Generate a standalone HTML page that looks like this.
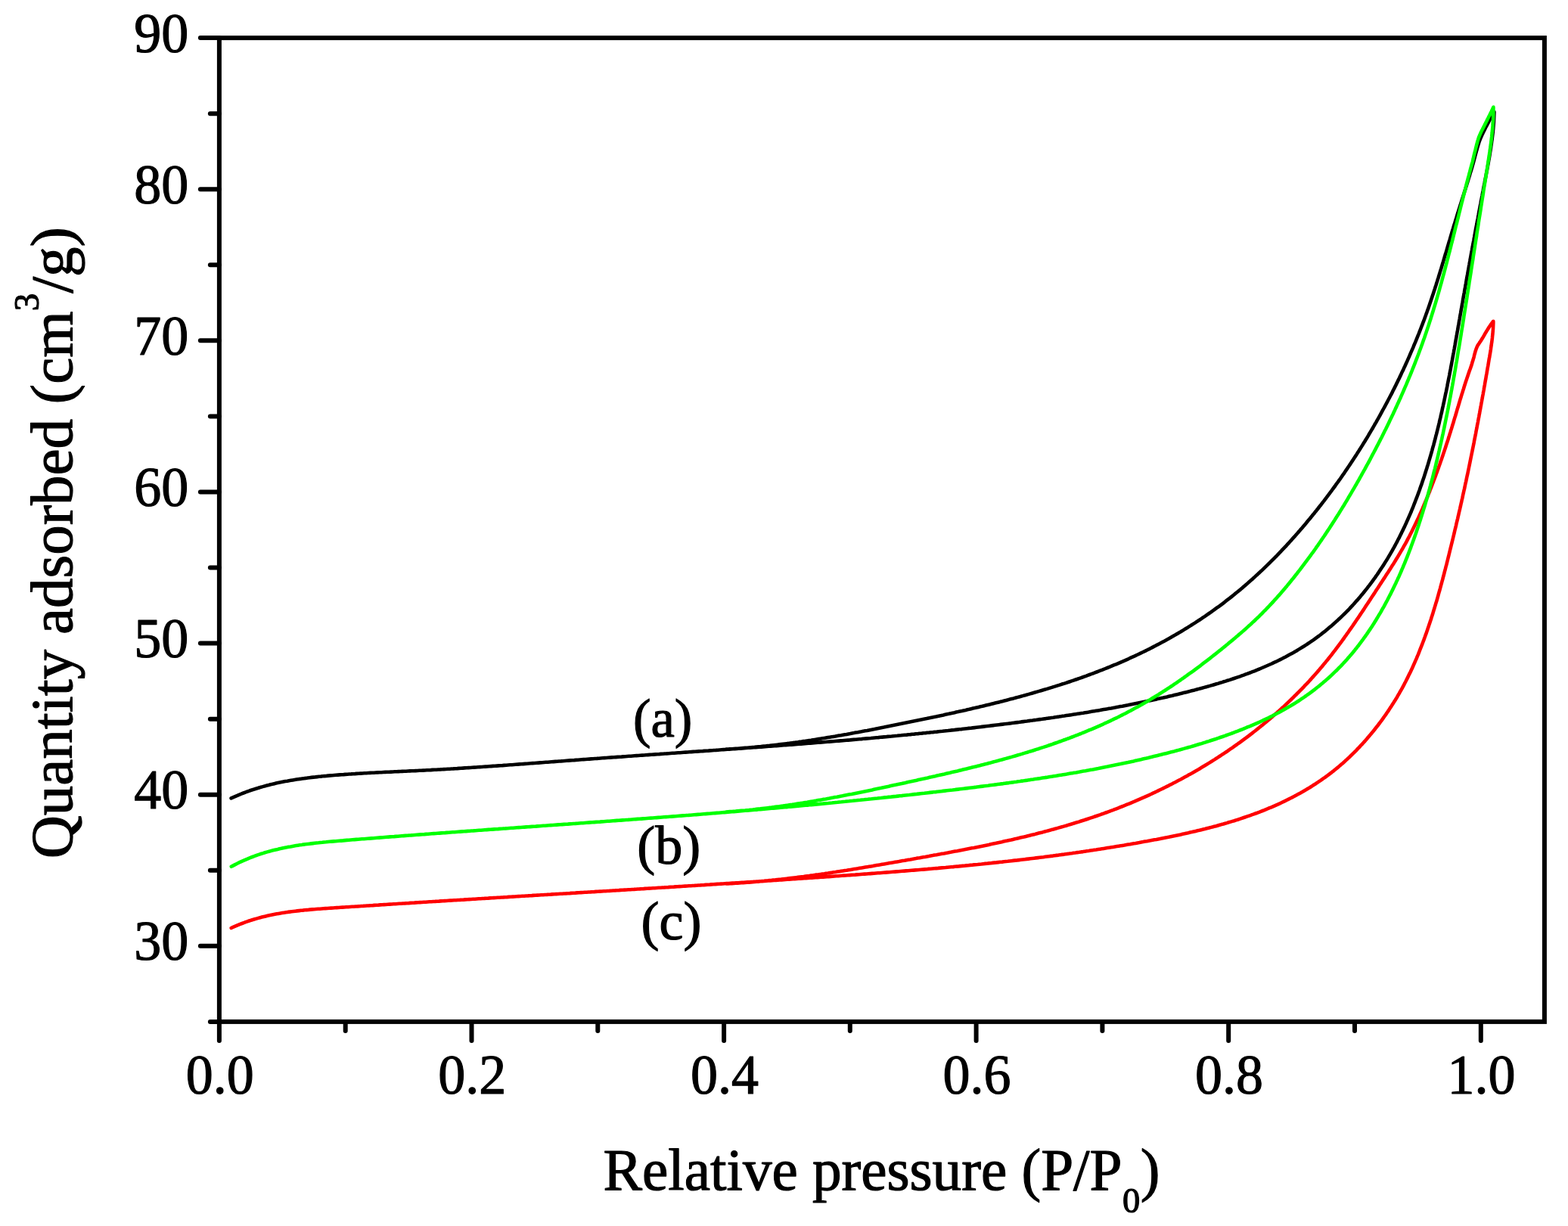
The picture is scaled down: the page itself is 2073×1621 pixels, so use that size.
<!DOCTYPE html>
<html><head><meta charset="utf-8"><title>Isotherms</title>
<style>
html,body{margin:0;padding:0;background:#fff;overflow:hidden;width:2073px;height:1621px;}
svg{display:block;}
text{font-family:"Liberation Serif","Times New Roman",serif;fill:#000;stroke:#000;stroke-width:1.2px;stroke-linejoin:round;}
</style></head>
<body>
<svg width="2073" height="1621" viewBox="0 0 2073 1621">
<rect x="0" y="0" width="2073" height="1621" fill="#fff"/>
<g fill="none" stroke-width="4.6" stroke-linejoin="round" stroke-linecap="round">
<path d="M305.6,1055.4L307.9,1054.3L310.2,1053.3L312.6,1052.3L314.9,1051.3L317.2,1050.3L319.6,1049.4L321.9,1048.5L324.3,1047.6L326.6,1046.7L329.0,1045.9L331.3,1045.0L333.7,1044.2L336.1,1043.5L338.5,1042.7L340.9,1042.0L343.3,1041.2L345.7,1040.6L348.1,1039.9L350.5,1039.2L352.9,1038.6L355.3,1038.0L357.7,1037.3L360.1,1036.8L362.6,1036.2L365.0,1035.6L367.4,1035.1L369.9,1034.6L372.3,1034.1L374.8,1033.6L377.2,1033.1L379.7,1032.7L382.1,1032.2L384.6,1031.8L387.0,1031.4L389.5,1031.0L392.0,1030.6L394.4,1030.2L396.9,1029.9L399.4,1029.5L401.9,1029.2L404.3,1028.9L406.8,1028.5L409.3,1028.2L411.8,1027.9L414.3,1027.6L416.8,1027.4L419.3,1027.1L421.8,1026.8L424.2,1026.6L426.7,1026.3L429.2,1026.1L431.7,1025.9L434.2,1025.6L436.7,1025.4L439.2,1025.2L441.7,1025.0L444.2,1024.8L446.7,1024.6L449.2,1024.4L451.7,1024.2L454.2,1024.1L456.7,1023.9L459.2,1023.7L461.7,1023.5L464.2,1023.4L466.7,1023.2L469.2,1023.1L471.7,1022.9L474.2,1022.8L476.7,1022.6L479.2,1022.5L481.7,1022.3L484.2,1022.2L486.8,1022.0L489.3,1021.9L491.8,1021.8L494.3,1021.7L496.8,1021.5L499.3,1021.4L501.8,1021.3L504.3,1021.2L506.8,1021.0L509.3,1020.9L511.8,1020.8L514.3,1020.7L516.8,1020.6L519.3,1020.5L521.8,1020.3L524.3,1020.2L526.8,1020.1L529.3,1020.0L531.8,1019.9L534.3,1019.8L536.8,1019.7L539.3,1019.5L541.9,1019.4L544.4,1019.3L546.9,1019.2L549.4,1019.1L551.9,1019.0L554.4,1018.8L556.9,1018.7L559.4,1018.6L561.9,1018.5L564.4,1018.3L566.9,1018.2L569.4,1018.1L571.9,1017.9L574.4,1017.8L576.9,1017.7L579.4,1017.5L581.9,1017.4L584.4,1017.2L586.9,1017.1L589.4,1017.0L591.9,1016.8L594.4,1016.7L596.9,1016.5L599.4,1016.4L601.9,1016.2L604.4,1016.1L606.9,1015.9L609.4,1015.8L611.9,1015.6L614.4,1015.4L616.9,1015.3L619.4,1015.1L621.9,1015.0L624.4,1014.8L626.9,1014.6L629.4,1014.5L631.9,1014.3L634.3,1014.1L636.8,1014.0L639.3,1013.8L641.8,1013.6L644.3,1013.5L646.8,1013.3L649.3,1013.1L651.8,1012.9L654.3,1012.8L656.8,1012.6L659.3,1012.4L661.8,1012.2L664.3,1012.1L666.8,1011.9L669.3,1011.7L671.8,1011.5L674.3,1011.3L676.8,1011.2L679.3,1011.0L681.8,1010.8L684.3,1010.6L686.8,1010.4L689.2,1010.3L691.7,1010.1L694.2,1009.9L696.7,1009.7L699.2,1009.5L701.7,1009.3L704.2,1009.1L706.7,1009.0L709.2,1008.8L711.7,1008.6L714.2,1008.4L716.7,1008.2L719.2,1008.0L721.7,1007.8L724.2,1007.7L726.7,1007.5L729.2,1007.3L731.7,1007.1L734.2,1006.9L736.6,1006.7L739.1,1006.5L741.6,1006.4L744.1,1006.2L746.6,1006.0L749.1,1005.8L751.6,1005.6L754.1,1005.4L756.6,1005.2L759.1,1005.1L761.6,1004.9L764.1,1004.7L766.6,1004.5L769.1,1004.3L771.6,1004.1L774.1,1004.0L776.6,1003.8L779.1,1003.6L781.6,1003.4L784.1,1003.2L786.6,1003.0L789.1,1002.9L791.6,1002.7L794.1,1002.5L796.5,1002.3L799.0,1002.1L801.5,1002.0L804.0,1001.8L806.5,1001.6L809.0,1001.4L811.5,1001.3L814.0,1001.1L816.5,1000.9L819.0,1000.7L821.5,1000.6L824.0,1000.4L826.5,1000.2L829.0,1000.0L831.5,999.8L834.0,999.7L836.5,999.5L839.0,999.3L841.5,999.1L844.0,999.0L846.5,998.8L849.0,998.6L851.5,998.5L854.0,998.3L856.5,998.1L859.0,997.9L861.5,997.8L864.0,997.6L866.5,997.4L869.0,997.2L871.5,997.1L874.0,996.9L876.5,996.7L879.0,996.5L881.5,996.4L884.0,996.2L886.5,996.0L889.0,995.8L891.5,995.7L894.0,995.5L896.5,995.3L899.0,995.2L901.5,995.0L904.0,994.8L906.5,994.6L909.0,994.5L911.5,994.3L914.0,994.1L916.5,993.9L919.0,993.8L921.5,993.6L924.0,993.4L926.5,993.2L929.0,993.1L931.5,992.9L934.0,992.7L936.5,992.6L939.0,992.4L941.5,992.2L944.0,992.0L946.5,991.9L949.0,991.7L951.5,991.5L954.0,991.3L956.5,991.1L959.0,991.0L961.5,990.8L964.0,990.6L966.5,990.4L969.0,990.3L971.5,990.1L974.0,989.9L976.5,989.7L979.0,989.6L981.5,989.4L984.0,989.2L986.5,989.0L989.0,988.8L991.5,988.7L994.0,988.5L996.5,988.3L999.0,988.1L1001.5,987.9L1004.0,987.7L1006.5,987.6L1008.9,987.4L1011.4,987.2L1013.9,987.0L1016.4,986.8L1018.9,986.6L1021.4,986.5L1023.9,986.3L1026.4,986.1L1028.9,985.9L1031.4,985.7L1033.9,985.5L1036.4,985.3L1038.9,985.1L1041.4,985.0L1043.9,984.8L1046.4,984.6L1048.9,984.4L1051.4,984.2L1053.9,984.0L1056.4,983.8L1058.9,983.6L1061.4,983.4L1063.9,983.2L1066.4,983.0L1068.9,982.8L1071.4,982.6L1073.9,982.4L1076.4,982.2L1078.9,982.0L1081.4,981.8L1083.9,981.6L1086.4,981.4L1088.9,981.2L1091.4,981.0L1093.9,980.8L1096.4,980.6L1098.9,980.4L1101.4,980.2L1103.9,980.0L1106.4,979.8L1108.9,979.6L1111.4,979.4L1113.9,979.2L1116.4,979.0L1118.9,978.8L1121.3,978.6L1123.8,978.4L1126.3,978.1L1128.8,977.9L1131.3,977.7L1133.8,977.5L1136.3,977.3L1138.8,977.1L1141.3,976.8L1143.8,976.6L1146.3,976.4L1148.8,976.2L1151.3,976.0L1153.8,975.7L1156.3,975.5L1158.8,975.3L1161.3,975.1L1163.8,974.8L1166.3,974.6L1168.7,974.4L1171.2,974.2L1173.7,973.9L1176.2,973.7L1178.7,973.5L1181.2,973.2L1183.7,973.0L1186.2,972.8L1188.7,972.5L1191.2,972.3L1193.7,972.0L1196.2,971.8L1198.7,971.6L1201.2,971.3L1203.6,971.1L1206.1,970.8L1208.6,970.6L1211.1,970.3L1213.6,970.1L1216.1,969.8L1218.6,969.6L1221.1,969.3L1223.6,969.1L1226.1,968.8L1228.6,968.6L1231.0,968.3L1233.5,968.1L1236.0,967.8L1238.5,967.6L1241.0,967.3L1243.5,967.0L1246.0,966.8L1248.5,966.5L1251.0,966.2L1253.4,966.0L1255.9,965.7L1258.4,965.4L1260.9,965.2L1263.4,964.9L1265.9,964.6L1268.4,964.3L1270.9,964.1L1273.3,963.8L1275.8,963.5L1278.3,963.2L1280.8,962.9L1283.3,962.7L1285.8,962.4L1288.3,962.1L1290.8,961.8L1293.2,961.5L1295.7,961.2L1298.2,960.9L1300.7,960.6L1303.2,960.3L1305.7,960.0L1308.1,959.7L1310.6,959.4L1313.1,959.1L1315.6,958.8L1318.1,958.5L1320.6,958.2L1323.0,957.9L1325.5,957.6L1328.0,957.3L1330.5,957.0L1333.0,956.7L1335.5,956.4L1337.9,956.0L1340.4,955.7L1342.9,955.4L1345.4,955.1L1347.9,954.8L1350.3,954.4L1352.8,954.1L1355.3,953.8L1357.8,953.5L1360.3,953.1L1362.7,952.8L1365.2,952.5L1367.7,952.1L1370.2,951.8L1372.7,951.4L1375.1,951.1L1377.6,950.8L1380.1,950.4L1382.6,950.1L1385.0,949.7L1387.5,949.4L1390.0,949.0L1392.5,948.7L1394.9,948.3L1397.4,947.9L1399.9,947.6L1402.4,947.2L1404.8,946.8L1407.3,946.5L1409.8,946.1L1412.3,945.7L1414.7,945.4L1417.2,945.0L1419.7,944.6L1422.2,944.2L1424.6,943.8L1427.1,943.4L1429.6,943.0L1432.0,942.7L1434.5,942.3L1437.0,941.9L1439.4,941.5L1441.9,941.0L1444.4,940.6L1446.8,940.2L1449.3,939.8L1451.8,939.4L1454.2,939.0L1456.7,938.5L1459.2,938.1L1461.6,937.7L1464.1,937.3L1466.6,936.8L1469.0,936.4L1471.5,935.9L1474.0,935.5L1476.4,935.0L1478.9,934.6L1481.3,934.1L1483.8,933.7L1486.3,933.2L1488.7,932.7L1491.2,932.3L1493.6,931.8L1496.1,931.3L1498.5,930.8L1501.0,930.3L1503.5,929.8L1505.9,929.3L1508.4,928.8L1510.8,928.3L1513.3,927.8L1515.7,927.3L1518.2,926.8L1520.6,926.3L1523.1,925.7L1525.5,925.2L1528.0,924.7L1530.4,924.1L1532.9,923.6L1535.3,923.0L1537.8,922.5L1540.2,921.9L1542.7,921.4L1545.1,920.8L1547.5,920.2L1550.0,919.7L1552.4,919.1L1554.9,918.5L1557.3,917.9L1559.8,917.3L1562.2,916.7L1564.6,916.1L1567.1,915.5L1569.5,914.9L1571.9,914.3L1574.4,913.6L1576.8,913.0L1579.2,912.4L1581.7,911.7L1584.1,911.1L1586.5,910.4L1589.0,909.8L1591.4,909.1L1593.8,908.4L1596.2,907.8L1598.7,907.1L1601.1,906.4L1603.5,905.7L1605.9,905.0L1608.3,904.3L1610.7,903.6L1613.2,902.8L1615.6,902.1L1618.0,901.3L1620.4,900.6L1622.8,899.8L1625.2,899.1L1627.5,898.3L1629.9,897.5L1632.3,896.7L1634.7,895.9L1637.1,895.1L1639.4,894.3L1641.8,893.4L1644.2,892.6L1646.5,891.7L1648.9,890.8L1651.2,890.0L1653.6,889.1L1655.9,888.2L1658.3,887.3L1660.6,886.3L1662.9,885.4L1665.2,884.5L1667.5,883.5L1669.8,882.5L1672.1,881.5L1674.4,880.5L1676.7,879.5L1679.0,878.5L1681.3,877.5L1683.5,876.4L1685.8,875.3L1688.1,874.3L1690.3,873.2L1692.5,872.1L1694.8,871.0L1697.0,869.8L1699.2,868.7L1701.4,867.5L1703.6,866.3L1705.8,865.1L1708.0,863.9L1710.2,862.7L1712.3,861.5L1714.5,860.2L1716.6,858.9L1718.7,857.6L1720.9,856.3L1723.0,855.0L1725.1,853.7L1727.2,852.3L1729.2,851.0L1731.3,849.6L1733.4,848.2L1735.4,846.8L1737.5,845.4L1739.5,843.9L1741.5,842.4L1743.5,841.0L1745.5,839.5L1747.4,837.9L1749.4,836.4L1751.4,834.9L1753.3,833.3L1755.2,831.7L1757.1,830.1L1759.0,828.5L1760.9,826.9L1762.8,825.2L1764.7,823.6L1766.5,821.9L1768.4,820.2L1770.2,818.5L1772.0,816.8L1773.8,815.1L1775.6,813.4L1777.4,811.6L1779.2,809.8L1780.9,808.1L1782.7,806.3L1784.4,804.5L1786.1,802.6L1787.8,800.8L1789.5,799.0L1791.2,797.1L1792.8,795.2L1794.5,793.4L1796.1,791.5L1797.8,789.6L1799.4,787.6L1801.0,785.7L1802.6,783.8L1804.2,781.8L1805.7,779.9L1807.3,777.9L1808.8,775.9L1810.4,773.9L1811.9,771.9L1813.4,769.9L1814.9,767.9L1816.3,765.8L1817.8,763.8L1819.3,761.7L1820.7,759.7L1822.1,757.6L1823.5,755.5L1824.9,753.4L1826.3,751.3L1827.7,749.2L1829.1,747.1L1830.4,745.0L1831.7,742.9L1833.1,740.7L1834.4,738.6L1835.7,736.4L1836.9,734.3L1838.2,732.1L1839.5,729.9L1840.7,727.8L1841.9,725.6L1843.2,723.4L1844.4,721.2L1845.5,719.0L1846.7,716.8L1847.9,714.5L1849.0,712.3L1850.2,710.1L1851.3,707.8L1852.4,705.6L1853.5,703.3L1854.6,701.1L1855.7,698.8L1856.8,696.6L1857.8,694.3L1858.9,692.0L1859.9,689.7L1860.9,687.5L1861.9,685.2L1862.9,682.9L1863.9,680.6L1864.9,678.3L1865.9,676.0L1866.8,673.7L1867.8,671.3L1868.7,669.0L1869.6,666.7L1870.5,664.4L1871.4,662.0L1872.3,659.7L1873.2,657.4L1874.1,655.0L1875.0,652.7L1875.8,650.3L1876.7,648.0L1877.5,645.6L1878.3,643.2L1879.2,640.9L1880.0,638.5L1880.8,636.1L1881.6,633.8L1882.4,631.4L1883.2,629.0L1883.9,626.7L1884.7,624.3L1885.4,621.9L1886.2,619.5L1886.9,617.1L1887.7,614.7L1888.4,612.3L1889.1,609.9L1889.8,607.6L1890.5,605.2L1891.2,602.8L1891.9,600.4L1892.6,598.0L1893.3,595.5L1893.9,593.1L1894.6,590.7L1895.3,588.3L1895.9,585.9L1896.6,583.5L1897.2,581.1L1897.8,578.7L1898.4,576.2L1899.1,573.8L1899.7,571.4L1900.3,569.0L1900.9,566.5L1901.5,564.1L1902.1,561.7L1902.7,559.3L1903.2,556.8L1903.8,554.4L1904.4,552.0L1904.9,549.5L1905.5,547.1L1906.1,544.6L1906.6,542.2L1907.1,539.8L1907.7,537.3L1908.2,534.9L1908.8,532.4L1909.3,530.0L1909.8,527.5L1910.3,525.1L1910.8,522.6L1911.3,520.2L1911.9,517.7L1912.4,515.3L1912.9,512.8L1913.4,510.4L1913.8,507.9L1914.3,505.5L1914.8,503.0L1915.3,500.5L1915.8,498.1L1916.3,495.6L1916.7,493.2L1917.2,490.7L1917.7,488.2L1918.1,485.8L1918.6,483.3L1919.1,480.8L1919.5,478.4L1920.0,475.9L1920.4,473.5L1920.9,471.0L1921.3,468.5L1921.8,466.1L1922.2,463.6L1922.7,461.1L1923.1,458.7L1923.6,456.2L1924.0,453.7L1924.4,451.2L1924.9,448.8L1925.3,446.3L1925.8,443.8L1926.2,441.4L1926.6,438.9L1927.1,436.4L1927.5,434.0L1927.9,431.5L1928.4,429.0L1928.8,426.6L1929.2,424.1L1929.7,421.6L1930.1,419.1L1930.5,416.7L1931.0,414.2L1931.4,411.7L1931.8,409.3L1932.3,406.8L1932.7,404.3L1933.1,401.9L1933.6,399.4L1934.0,396.9L1934.4,394.5L1934.9,392.0L1935.3,389.5L1935.8,387.1L1936.2,384.6L1936.6,382.1L1937.1,379.7L1937.5,377.2L1938.0,374.7L1938.4,372.3L1938.8,369.8L1939.3,367.3L1939.7,364.9L1940.2,362.4L1940.6,360.0L1941.1,357.5L1941.5,355.0L1941.9,352.6L1942.4,350.1L1942.8,347.6L1943.3,345.2L1943.7,342.7L1944.2,340.3L1944.6,337.8L1945.1,335.3L1945.5,332.9L1946.0,330.4L1946.4,327.9L1946.9,325.5L1947.3,323.0L1947.8,320.6L1948.3,318.1L1948.7,315.6L1949.2,313.2L1949.6,310.7L1950.1,308.3L1950.5,305.8L1951.0,303.3L1951.4,300.9L1951.9,298.4L1952.4,296.0L1952.8,293.5L1953.3,291.0L1953.8,288.6L1954.2,286.1L1954.7,283.7L1955.1,281.2L1955.6,278.7L1956.1,276.3L1956.5,273.8L1957.0,271.4L1957.5,268.9L1957.9,266.4L1958.4,264.0L1958.9,261.5L1959.4,259.1L1959.8,256.6L1960.3,254.2L1960.8,251.7L1961.2,249.2L1961.7,246.8L1962.2,244.3L1962.7,241.9L1963.1,239.4L1963.6,237.0L1964.1,234.5L1964.6,232.0L1965.0,229.6L1965.5,227.1L1966.0,224.7L1966.4,222.2L1966.9,219.7L1967.3,217.3L1967.8,214.8L1968.2,212.4L1968.7,209.9L1969.1,207.4L1969.5,205.0L1969.9,202.5L1970.3,200.0L1970.7,197.6L1971.1,195.1L1971.4,192.6L1971.8,190.2L1972.1,187.7L1972.5,185.2L1972.8,182.8L1973.1,180.3L1973.4,177.8L1973.7,175.3L1973.9,172.9L1974.2,170.4L1974.4,167.9L1974.6,165.4L1974.8,162.9L1975.0,160.4L1975.1,158.0L1975.2,155.5L1975.3,153.0L1975.4,150.5L1975.5,148.0L1975.3,148.4L1975.0,148.8L1974.6,149.4L1974.2,150.0L1973.8,150.7L1973.4,151.5L1972.9,152.2L1972.5,153.0L1972.0,153.8L1971.6,154.7L1971.1,155.6L1970.6,156.6L1970.0,157.6L1969.5,158.6L1969.0,159.5L1968.5,160.5L1968.0,161.4L1967.5,162.4L1967.0,163.3L1966.5,164.3L1966.0,165.2L1965.5,166.2L1965.0,167.1L1964.5,168.0L1964.0,168.9L1963.6,169.8L1963.1,170.7L1962.7,171.6L1962.3,172.4L1961.8,173.3L1961.4,174.2L1961.0,175.0L1960.6,175.8L1960.2,176.7L1959.8,177.5L1959.4,178.3L1959.0,179.2L1958.7,180.0L1958.3,180.7L1958.0,181.5L1957.7,182.2L1957.4,182.9L1957.1,183.6L1956.9,184.2L1956.6,184.9L1956.3,185.5L1956.1,186.2L1955.8,187.0L1955.5,187.8L1955.2,188.7L1955.0,189.5L1954.7,190.4L1954.4,191.3L1954.1,192.2L1953.9,193.1L1953.6,194.0L1953.4,194.8L1953.1,195.7L1952.9,196.5L1952.7,197.3L1952.5,198.1L1952.2,198.9L1952.0,199.7L1951.8,200.5L1951.6,201.3L1951.3,202.1L1951.1,202.9L1950.9,203.7L1950.7,204.5L1950.5,205.3L1950.2,206.2L1950.0,207.0L1949.8,207.9L1949.6,208.7L1949.3,209.6L1949.1,210.5L1948.9,211.4L1948.7,212.2L1948.4,213.1L1948.2,214.0L1947.9,214.9L1947.7,215.9L1947.4,216.9L1947.1,217.9L1946.8,218.9L1946.6,219.7L1946.4,220.5L1946.2,221.0L1945.5,223.4L1944.8,225.8L1944.0,228.2L1943.3,230.6L1942.6,233.0L1941.8,235.4L1941.1,237.8L1940.4,240.2L1939.6,242.6L1938.9,245.0L1938.1,247.4L1937.4,249.8L1936.6,252.2L1935.9,254.6L1935.1,256.9L1934.4,259.3L1933.6,261.7L1932.9,264.1L1932.1,266.5L1931.3,268.9L1930.6,271.3L1929.8,273.7L1929.1,276.1L1928.3,278.5L1927.6,280.8L1926.8,283.2L1926.1,285.6L1925.4,288.0L1924.6,290.4L1923.9,292.8L1923.2,295.2L1922.4,297.6L1921.7,300.0L1921.0,302.4L1920.2,304.8L1919.5,307.2L1918.8,309.6L1918.1,312.0L1917.4,314.4L1916.7,316.9L1915.9,319.3L1915.2,321.7L1914.5,324.1L1913.8,326.5L1913.1,328.9L1912.4,331.3L1911.7,333.7L1910.9,336.1L1910.2,338.5L1909.5,340.9L1908.8,343.3L1908.1,345.7L1907.3,348.2L1906.6,350.6L1905.9,353.0L1905.2,355.4L1904.4,357.8L1903.7,360.2L1903.0,362.6L1902.2,365.0L1901.5,367.4L1900.7,369.8L1900.0,372.2L1899.2,374.6L1898.5,377.0L1897.7,379.3L1897.0,381.7L1896.2,384.1L1895.4,386.5L1894.6,388.9L1893.8,391.3L1893.0,393.7L1892.2,396.0L1891.4,398.4L1890.6,400.8L1889.8,403.2L1889.0,405.5L1888.2,407.9L1887.3,410.3L1886.5,412.6L1885.6,415.0L1884.8,417.3L1883.9,419.7L1883.1,422.0L1882.2,424.4L1881.3,426.7L1880.4,429.1L1879.5,431.4L1878.6,433.8L1877.7,436.1L1876.8,438.4L1875.9,440.8L1874.9,443.1L1874.0,445.4L1873.1,447.7L1872.1,450.1L1871.2,452.4L1870.2,454.7L1869.2,457.0L1868.3,459.3L1867.3,461.6L1866.3,463.9L1865.3,466.2L1864.3,468.5L1863.3,470.8L1862.3,473.1L1861.3,475.4L1860.3,477.7L1859.2,480.0L1858.2,482.2L1857.2,484.5L1856.1,486.8L1855.1,489.1L1854.0,491.3L1852.9,493.6L1851.9,495.9L1850.8,498.1L1849.7,500.4L1848.6,502.6L1847.5,504.9L1846.4,507.1L1845.3,509.4L1844.2,511.6L1843.1,513.9L1841.9,516.1L1840.8,518.4L1839.7,520.6L1838.5,522.8L1837.4,525.0L1836.2,527.3L1835.0,529.5L1833.9,531.7L1832.7,533.9L1831.5,536.1L1830.3,538.3L1829.1,540.5L1827.9,542.7L1826.7,544.9L1825.5,547.1L1824.3,549.3L1823.1,551.5L1821.9,553.7L1820.6,555.9L1819.4,558.1L1818.1,560.2L1816.9,562.4L1815.6,564.6L1814.4,566.8L1813.1,568.9L1811.8,571.1L1810.5,573.2L1809.3,575.4L1808.0,577.6L1806.7,579.7L1805.4,581.8L1804.1,584.0L1802.7,586.1L1801.4,588.3L1800.1,590.4L1798.8,592.5L1797.4,594.6L1796.1,596.8L1794.7,598.9L1793.4,601.0L1792.0,603.1L1790.6,605.2L1789.3,607.3L1787.9,609.4L1786.5,611.5L1785.1,613.6L1783.7,615.7L1782.3,617.8L1780.9,619.9L1779.5,621.9L1778.1,624.0L1776.7,626.1L1775.2,628.1L1773.8,630.2L1772.4,632.3L1770.9,634.3L1769.5,636.4L1768.0,638.4L1766.5,640.4L1765.1,642.5L1763.6,644.5L1762.1,646.5L1760.6,648.6L1759.1,650.6L1757.6,652.6L1756.1,654.6L1754.6,656.6L1753.1,658.6L1751.6,660.6L1750.1,662.6L1748.5,664.6L1747.0,666.6L1745.5,668.6L1743.9,670.5L1742.4,672.5L1740.8,674.5L1739.2,676.4L1737.7,678.4L1736.1,680.3L1734.5,682.3L1732.9,684.2L1731.3,686.2L1729.7,688.1L1728.1,690.0L1726.5,692.0L1724.9,693.9L1723.3,695.8L1721.7,697.7L1720.0,699.6L1718.4,701.5L1716.7,703.4L1715.1,705.3L1713.4,707.2L1711.8,709.1L1710.1,710.9L1708.4,712.8L1706.8,714.7L1705.1,716.5L1703.4,718.4L1701.7,720.2L1700.0,722.1L1698.3,723.9L1696.6,725.7L1694.8,727.5L1693.1,729.4L1691.4,731.2L1689.6,733.0L1687.9,734.8L1686.1,736.6L1684.4,738.3L1682.6,740.1L1680.8,741.9L1679.1,743.6L1677.3,745.4L1675.5,747.2L1673.7,748.9L1671.9,750.6L1670.1,752.4L1668.3,754.1L1666.4,755.8L1664.6,757.5L1662.8,759.2L1660.9,760.9L1659.1,762.6L1657.2,764.3L1655.4,766.0L1653.5,767.6L1651.6,769.3L1649.8,770.9L1647.9,772.6L1646.0,774.2L1644.1,775.8L1642.2,777.5L1640.3,779.1L1638.3,780.7L1636.4,782.3L1634.5,783.8L1632.5,785.4L1630.6,787.0L1628.6,788.6L1626.7,790.1L1624.7,791.7L1622.7,793.2L1620.7,794.7L1618.8,796.3L1616.8,797.8L1614.8,799.3L1612.8,800.8L1610.7,802.3L1608.7,803.7L1606.7,805.2L1604.7,806.7L1602.6,808.1L1600.6,809.6L1598.5,811.0L1596.5,812.4L1594.4,813.9L1592.3,815.3L1590.2,816.7L1588.2,818.1L1586.1,819.5L1584.0,820.8L1581.9,822.2L1579.8,823.6L1577.7,824.9L1575.5,826.3L1573.4,827.6L1571.3,828.9L1569.2,830.3L1567.0,831.6L1564.9,832.9L1562.7,834.2L1560.6,835.5L1558.4,836.7L1556.3,838.0L1554.1,839.3L1551.9,840.5L1549.7,841.8L1547.6,843.0L1545.4,844.3L1543.2,845.5L1541.0,846.7L1538.8,847.9L1536.6,849.1L1534.4,850.3L1532.1,851.5L1529.9,852.6L1527.7,853.8L1525.5,854.9L1523.2,856.1L1521.0,857.2L1518.8,858.4L1516.5,859.5L1514.3,860.6L1512.0,861.7L1509.8,862.8L1507.5,863.9L1505.2,865.0L1503.0,866.0L1500.7,867.1L1498.4,868.2L1496.1,869.2L1493.8,870.2L1491.6,871.3L1489.3,872.3L1487.0,873.3L1484.7,874.3L1482.4,875.3L1480.1,876.3L1477.8,877.3L1475.5,878.3L1473.1,879.2L1470.8,880.2L1468.5,881.2L1466.2,882.1L1463.9,883.0L1461.5,884.0L1459.2,884.9L1456.9,885.8L1454.5,886.7L1452.2,887.6L1449.9,888.5L1447.5,889.4L1445.2,890.3L1442.8,891.2L1440.5,892.0L1438.1,892.9L1435.7,893.8L1433.4,894.6L1431.0,895.5L1428.7,896.3L1426.3,897.1L1423.9,898.0L1421.5,898.8L1419.2,899.6L1416.8,900.4L1414.4,901.2L1412.0,902.0L1409.7,902.8L1407.3,903.6L1404.9,904.3L1402.5,905.1L1400.1,905.9L1397.7,906.6L1395.3,907.4L1392.9,908.1L1390.5,908.9L1388.1,909.6L1385.7,910.4L1383.3,911.1L1380.9,911.8L1378.5,912.5L1376.1,913.2L1373.7,913.9L1371.3,914.6L1368.9,915.3L1366.5,916.0L1364.1,916.7L1361.7,917.4L1359.2,918.1L1356.8,918.8L1354.4,919.4L1352.0,920.1L1349.6,920.8L1347.2,921.4L1344.7,922.1L1342.3,922.7L1339.9,923.4L1337.5,924.0L1335.0,924.6L1332.6,925.3L1330.2,925.9L1327.8,926.5L1325.3,927.2L1322.9,927.8L1320.5,928.4L1318.0,929.0L1315.6,929.6L1313.2,930.2L1310.7,930.8L1308.3,931.4L1305.9,932.0L1303.4,932.6L1301.0,933.2L1298.6,933.8L1296.1,934.3L1293.7,934.9L1291.2,935.5L1288.8,936.1L1286.3,936.6L1283.9,937.2L1281.5,937.8L1279.0,938.3L1276.6,938.9L1274.1,939.4L1271.7,940.0L1269.2,940.5L1266.8,941.1L1264.3,941.6L1261.9,942.2L1259.4,942.7L1257.0,943.2L1254.5,943.8L1252.1,944.3L1249.6,944.8L1247.2,945.4L1244.7,945.9L1242.3,946.4L1239.8,946.9L1237.4,947.5L1234.9,948.0L1232.5,948.5L1230.0,949.0L1227.6,949.5L1225.1,950.1L1222.6,950.6L1220.2,951.1L1217.7,951.6L1215.3,952.1L1212.8,952.6L1210.4,953.1L1207.9,953.6L1205.4,954.1L1203.0,954.6L1200.5,955.1L1198.1,955.6L1195.6,956.1L1193.1,956.6L1190.7,957.1L1188.2,957.6L1185.8,958.1L1183.3,958.6L1180.8,959.1L1178.4,959.6L1175.9,960.1L1173.5,960.6L1171.0,961.1L1168.5,961.6L1166.1,962.0L1163.6,962.5L1161.2,963.0L1158.7,963.5L1156.2,964.0L1153.8,964.4L1151.3,964.9L1148.8,965.4L1146.4,965.9L1143.9,966.3L1141.4,966.8L1139.0,967.3L1136.5,967.7L1134.0,968.2L1131.6,968.6L1129.1,969.1L1126.6,969.5L1124.2,970.0L1121.7,970.4L1119.2,970.9L1116.8,971.3L1114.3,971.7L1111.8,972.2L1109.3,972.6L1106.9,973.0L1104.4,973.5L1101.9,973.9L1099.5,974.3L1097.0,974.7L1094.5,975.1L1092.0,975.5L1089.6,975.9L1087.1,976.3L1084.6,976.7L1082.1,977.1L1079.7,977.5L1077.2,977.9L1074.7,978.3L1072.2,978.7L1069.7,979.0L1067.3,979.4L1064.8,979.8L1062.3,980.1L1059.8,980.5L1057.3,980.8L1054.9,981.2L1052.4,981.5L1049.9,981.9L1047.4,982.2L1044.9,982.5L1042.4,982.9L1039.9,983.2L1037.5,983.5L1035.0,983.8L1032.5,984.1L1030.0,984.4L1027.5,984.7L1025.0,985.0L1022.5,985.3L1020.0,985.6L1017.5,985.9L1015.0,986.1L1012.6,986.4L1010.1,986.6L1007.6,986.9L1005.1,987.2L1002.6,987.4L1000.1,987.6L997.6,987.9L995.1,988.1L992.6,988.3L990.1,988.5L987.6,988.7L985.1,988.9L982.6,989.1L980.1,989.3L977.6,989.5L975.1,989.7L972.5,989.8L970.0,990.0L967.5,990.2L965.0,990.3L962.5,990.5L960.0,990.6L959.0,991.0L956.5,991.1L954.0,991.3L951.5,991.5L949.0,991.7L946.5,991.9L944.0,992.0L941.5,992.2L939.0,992.4L936.5,992.6L934.0,992.7L931.5,992.9L929.0,993.1L926.5,993.2L924.0,993.4L921.5,993.6L919.0,993.8L916.5,993.9L914.0,994.1L911.5,994.3L909.0,994.5L906.5,994.6L904.0,994.8L901.5,995.0L899.0,995.2L896.5,995.3L894.0,995.5L891.5,995.7L889.0,995.8L886.5,996.0L884.0,996.2L881.5,996.4L879.0,996.5L876.5,996.7L874.0,996.9L871.5,997.1L869.0,997.2L866.5,997.4L864.0,997.6L861.5,997.8L859.0,997.9" stroke="#000"/>
<path d="M305.7,1227.0L308.0,1225.9L310.4,1224.9L312.7,1223.9L315.1,1222.9L317.5,1221.9L319.9,1221.0L322.3,1220.1L324.7,1219.2L327.0,1218.4L329.4,1217.5L331.8,1216.8L334.3,1216.0L336.7,1215.3L339.1,1214.6L341.5,1213.9L343.9,1213.2L346.3,1212.6L348.8,1212.0L351.2,1211.4L353.6,1210.8L356.1,1210.3L358.5,1209.8L361.0,1209.3L363.4,1208.8L365.9,1208.3L368.3,1207.9L370.8,1207.5L373.2,1207.1L375.7,1206.7L378.2,1206.3L380.6,1205.9L383.1,1205.6L385.6,1205.3L388.0,1205.0L390.5,1204.7L393.0,1204.4L395.5,1204.1L398.0,1203.8L400.4,1203.6L402.9,1203.3L405.4,1203.1L407.9,1202.9L410.4,1202.6L412.9,1202.4L415.4,1202.2L417.9,1202.0L420.4,1201.8L422.9,1201.7L425.3,1201.5L427.8,1201.3L430.3,1201.1L432.8,1201.0L435.3,1200.8L437.8,1200.6L440.3,1200.5L442.8,1200.3L445.3,1200.1L447.8,1200.0L450.3,1199.8L452.8,1199.6L455.3,1199.5L457.8,1199.3L460.3,1199.2L462.8,1199.0L465.3,1198.8L467.8,1198.7L470.3,1198.5L472.8,1198.4L475.3,1198.2L477.8,1198.0L480.3,1197.9L482.8,1197.7L485.3,1197.5L487.8,1197.4L490.3,1197.2L492.8,1197.1L495.3,1196.9L497.8,1196.7L500.3,1196.6L502.8,1196.4L505.3,1196.3L507.8,1196.1L510.3,1196.0L512.8,1195.8L515.3,1195.6L517.8,1195.5L520.3,1195.3L522.8,1195.2L525.3,1195.0L527.8,1194.8L530.3,1194.7L532.8,1194.5L535.3,1194.4L537.8,1194.2L540.3,1194.1L542.8,1193.9L545.3,1193.7L547.8,1193.6L550.3,1193.4L552.8,1193.3L555.3,1193.1L557.8,1193.0L560.3,1192.8L562.8,1192.7L565.3,1192.5L567.8,1192.3L570.3,1192.2L572.8,1192.0L575.3,1191.9L577.8,1191.7L580.3,1191.6L582.8,1191.4L585.3,1191.3L587.8,1191.1L590.3,1191.0L592.8,1190.8L595.3,1190.6L597.8,1190.5L600.4,1190.3L602.9,1190.2L605.4,1190.0L607.9,1189.9L610.4,1189.7L612.9,1189.6L615.4,1189.4L617.9,1189.3L620.4,1189.1L622.9,1189.0L625.4,1188.8L627.9,1188.7L630.4,1188.5L632.9,1188.3L635.4,1188.2L637.9,1188.0L640.4,1187.9L642.9,1187.7L645.4,1187.6L647.9,1187.4L650.4,1187.3L652.9,1187.1L655.4,1187.0L657.9,1186.8L660.4,1186.7L662.9,1186.5L665.4,1186.4L667.9,1186.2L670.4,1186.1L672.9,1185.9L675.4,1185.8L678.0,1185.6L680.5,1185.5L683.0,1185.3L685.5,1185.1L688.0,1185.0L690.5,1184.8L693.0,1184.7L695.5,1184.5L698.0,1184.4L700.5,1184.2L703.0,1184.1L705.5,1183.9L708.0,1183.8L710.5,1183.6L713.0,1183.5L715.5,1183.3L718.0,1183.2L720.5,1183.0L723.0,1182.9L725.5,1182.7L728.0,1182.6L730.5,1182.4L733.0,1182.3L735.5,1182.1L738.0,1182.0L740.5,1181.8L743.1,1181.7L745.6,1181.5L748.1,1181.4L750.6,1181.2L753.1,1181.1L755.6,1180.9L758.1,1180.7L760.6,1180.6L763.1,1180.4L765.6,1180.3L768.1,1180.1L770.6,1180.0L773.1,1179.8L775.6,1179.7L778.1,1179.5L780.6,1179.4L783.1,1179.2L785.6,1179.1L788.1,1178.9L790.6,1178.8L793.1,1178.6L795.6,1178.5L798.1,1178.3L800.6,1178.2L803.1,1178.0L805.7,1177.9L808.2,1177.7L810.7,1177.5L813.2,1177.4L815.7,1177.2L818.2,1177.1L820.7,1176.9L823.2,1176.8L825.7,1176.6L828.2,1176.5L830.7,1176.3L833.2,1176.2L835.7,1176.0L838.2,1175.9L840.7,1175.7L843.2,1175.5L845.7,1175.4L848.2,1175.2L850.7,1175.1L853.2,1174.9L855.7,1174.8L858.2,1174.6L860.7,1174.5L863.2,1174.3L865.7,1174.2L868.2,1174.0L870.7,1173.8L873.2,1173.7L875.7,1173.5L878.2,1173.4L880.8,1173.2L883.3,1173.1L885.8,1172.9L888.3,1172.7L890.8,1172.6L893.3,1172.4L895.8,1172.3L898.3,1172.1L900.8,1172.0L903.3,1171.8L905.8,1171.6L908.3,1171.5L910.8,1171.3L913.3,1171.2L915.8,1171.0L918.3,1170.9L920.8,1170.7L923.3,1170.5L925.8,1170.4L928.3,1170.2L930.8,1170.1L933.3,1169.9L935.8,1169.7L938.3,1169.6L940.8,1169.4L943.3,1169.3L945.8,1169.1L948.3,1168.9L950.8,1168.8L953.3,1168.6L955.8,1168.5L958.3,1168.3L960.8,1168.1L963.3,1168.0L965.8,1167.8L968.3,1167.6L970.8,1167.5L973.3,1167.3L975.8,1167.2L978.3,1167.0L980.8,1166.8L983.3,1166.7L985.8,1166.5L988.3,1166.3L990.8,1166.2L993.3,1166.0L995.8,1165.9L998.3,1165.7L1000.8,1165.5L1003.3,1165.4L1005.8,1165.2L1008.3,1165.0L1010.8,1164.9L1013.3,1164.7L1015.8,1164.5L1018.3,1164.4L1020.8,1164.2L1023.3,1164.0L1025.8,1163.9L1028.3,1163.7L1030.8,1163.5L1033.3,1163.4L1035.8,1163.2L1038.3,1163.0L1040.8,1162.8L1043.3,1162.7L1045.8,1162.5L1048.3,1162.3L1050.8,1162.2L1053.3,1162.0L1055.8,1161.8L1058.3,1161.7L1060.8,1161.5L1063.3,1161.3L1065.8,1161.1L1068.3,1161.0L1070.8,1160.8L1073.2,1160.6L1075.7,1160.4L1078.2,1160.3L1080.7,1160.1L1083.2,1159.9L1085.7,1159.8L1088.2,1159.6L1090.7,1159.4L1093.2,1159.2L1095.7,1159.1L1098.2,1158.9L1100.7,1158.7L1103.2,1158.5L1105.7,1158.3L1108.2,1158.2L1110.7,1158.0L1113.2,1157.8L1115.7,1157.6L1118.2,1157.5L1120.7,1157.3L1123.2,1157.1L1125.6,1156.9L1128.1,1156.7L1130.6,1156.6L1133.1,1156.4L1135.6,1156.2L1138.1,1156.0L1140.6,1155.8L1143.1,1155.6L1145.6,1155.5L1148.1,1155.3L1150.6,1155.1L1153.1,1154.9L1155.6,1154.7L1158.1,1154.5L1160.6,1154.3L1163.0,1154.2L1165.5,1154.0L1168.0,1153.8L1170.5,1153.6L1173.0,1153.4L1175.5,1153.2L1178.0,1153.0L1180.5,1152.8L1183.0,1152.6L1185.5,1152.4L1188.0,1152.2L1190.5,1152.0L1192.9,1151.8L1195.4,1151.6L1197.9,1151.4L1200.4,1151.2L1202.9,1151.0L1205.4,1150.8L1207.9,1150.6L1210.4,1150.4L1212.9,1150.2L1215.4,1150.0L1217.9,1149.8L1220.3,1149.6L1222.8,1149.4L1225.3,1149.2L1227.8,1148.9L1230.3,1148.7L1232.8,1148.5L1235.3,1148.3L1237.8,1148.1L1240.3,1147.9L1242.7,1147.6L1245.2,1147.4L1247.7,1147.2L1250.2,1147.0L1252.7,1146.7L1255.2,1146.5L1257.7,1146.3L1260.2,1146.1L1262.7,1145.8L1265.2,1145.6L1267.6,1145.4L1270.1,1145.1L1272.6,1144.9L1275.1,1144.7L1277.6,1144.4L1280.1,1144.2L1282.6,1143.9L1285.1,1143.7L1287.5,1143.4L1290.0,1143.2L1292.5,1143.0L1295.0,1142.7L1297.5,1142.5L1300.0,1142.2L1302.5,1141.9L1305.0,1141.7L1307.5,1141.4L1309.9,1141.2L1312.4,1140.9L1314.9,1140.6L1317.4,1140.4L1319.9,1140.1L1322.4,1139.8L1324.9,1139.6L1327.4,1139.3L1329.8,1139.0L1332.3,1138.8L1334.8,1138.5L1337.3,1138.2L1339.8,1137.9L1342.3,1137.6L1344.8,1137.4L1347.3,1137.1L1349.7,1136.8L1352.2,1136.5L1354.7,1136.2L1357.2,1135.9L1359.7,1135.6L1362.2,1135.3L1364.7,1135.0L1367.1,1134.7L1369.6,1134.4L1372.1,1134.1L1374.6,1133.8L1377.1,1133.5L1379.6,1133.2L1382.1,1132.8L1384.6,1132.5L1387.0,1132.2L1389.5,1131.9L1392.0,1131.6L1394.5,1131.2L1397.0,1130.9L1399.5,1130.6L1402.0,1130.2L1404.4,1129.9L1406.9,1129.6L1409.4,1129.2L1411.9,1128.9L1414.4,1128.5L1416.9,1128.2L1419.4,1127.8L1421.9,1127.5L1424.3,1127.1L1426.8,1126.8L1429.3,1126.4L1431.8,1126.1L1434.3,1125.7L1436.8,1125.3L1439.3,1125.0L1441.7,1124.6L1444.2,1124.2L1446.7,1123.8L1449.2,1123.5L1451.7,1123.1L1454.2,1122.7L1456.7,1122.3L1459.2,1121.9L1461.6,1121.5L1464.1,1121.1L1466.6,1120.7L1469.1,1120.3L1471.6,1119.9L1474.1,1119.5L1476.6,1119.1L1479.0,1118.7L1481.5,1118.3L1484.0,1117.9L1486.5,1117.5L1489.0,1117.0L1491.5,1116.6L1494.0,1116.2L1496.5,1115.7L1498.9,1115.3L1501.4,1114.9L1503.9,1114.4L1506.4,1114.0L1508.9,1113.5L1511.4,1113.1L1513.9,1112.6L1516.3,1112.2L1518.8,1111.7L1521.3,1111.3L1523.8,1110.8L1526.3,1110.3L1528.8,1109.9L1531.3,1109.4L1533.7,1108.9L1536.2,1108.4L1538.7,1107.9L1541.2,1107.4L1543.7,1107.0L1546.2,1106.5L1548.7,1105.9L1551.1,1105.4L1553.6,1104.9L1556.1,1104.4L1558.6,1103.9L1561.0,1103.4L1563.5,1102.8L1566.0,1102.3L1568.5,1101.7L1570.9,1101.2L1573.4,1100.6L1575.9,1100.1L1578.3,1099.5L1580.8,1098.9L1583.2,1098.3L1585.7,1097.8L1588.1,1097.2L1590.6,1096.6L1593.0,1096.0L1595.5,1095.3L1597.9,1094.7L1600.4,1094.1L1602.8,1093.4L1605.2,1092.8L1607.7,1092.2L1610.1,1091.5L1612.5,1090.8L1614.9,1090.1L1617.3,1089.5L1619.7,1088.8L1622.1,1088.1L1624.5,1087.3L1626.9,1086.6L1629.3,1085.9L1631.7,1085.2L1634.1,1084.4L1636.5,1083.7L1638.9,1082.9L1641.2,1082.1L1643.6,1081.3L1646.0,1080.5L1648.3,1079.7L1650.7,1078.9L1653.0,1078.1L1655.4,1077.2L1657.7,1076.4L1660.0,1075.5L1662.4,1074.7L1664.7,1073.8L1667.0,1072.9L1669.3,1072.0L1671.6,1071.1L1673.9,1070.1L1676.2,1069.2L1678.5,1068.2L1680.8,1067.3L1683.0,1066.3L1685.3,1065.3L1687.5,1064.3L1689.8,1063.3L1692.0,1062.3L1694.3,1061.2L1696.5,1060.2L1698.7,1059.1L1700.9,1058.0L1703.2,1056.9L1705.4,1055.8L1707.5,1054.7L1709.7,1053.6L1711.9,1052.4L1714.1,1051.3L1716.2,1050.1L1718.4,1048.9L1720.5,1047.7L1722.7,1046.5L1724.8,1045.2L1726.9,1044.0L1729.0,1042.7L1731.2,1041.5L1733.2,1040.2L1735.3,1038.8L1737.4,1037.5L1739.5,1036.2L1741.5,1034.8L1743.6,1033.4L1745.6,1032.1L1747.7,1030.6L1749.7,1029.2L1751.7,1027.8L1753.7,1026.3L1755.7,1024.9L1757.7,1023.4L1759.7,1021.9L1761.6,1020.3L1763.6,1018.8L1765.5,1017.2L1767.5,1015.6L1769.4,1014.1L1771.3,1012.4L1773.2,1010.8L1775.1,1009.2L1777.0,1007.5L1778.8,1005.8L1780.7,1004.1L1782.5,1002.4L1784.4,1000.7L1786.2,998.9L1788.0,997.1L1789.8,995.4L1791.6,993.6L1793.4,991.8L1795.1,989.9L1796.9,988.1L1798.6,986.2L1800.4,984.4L1802.1,982.5L1803.8,980.6L1805.5,978.7L1807.2,976.8L1808.8,974.8L1810.5,972.9L1812.1,970.9L1813.7,969.0L1815.4,967.0L1817.0,965.0L1818.5,963.0L1820.1,961.0L1821.7,959.0L1823.2,957.0L1824.8,954.9L1826.3,952.9L1827.8,950.8L1829.3,948.7L1830.7,946.7L1832.2,944.6L1833.6,942.5L1835.1,940.4L1836.5,938.3L1837.9,936.1L1839.3,934.0L1840.6,931.9L1842.0,929.8L1843.3,927.6L1844.7,925.5L1846.0,923.3L1847.3,921.2L1848.5,919.0L1849.8,916.8L1851.0,914.6L1852.3,912.5L1853.5,910.3L1854.7,908.1L1855.9,905.9L1857.0,903.7L1858.2,901.5L1859.3,899.3L1860.4,897.1L1861.5,894.9L1862.6,892.6L1863.7,890.4L1864.8,888.2L1865.8,886.0L1866.9,883.7L1867.9,881.5L1868.9,879.2L1869.9,877.0L1870.9,874.7L1871.9,872.4L1872.9,870.2L1873.8,867.9L1874.8,865.6L1875.7,863.3L1876.6,861.0L1877.5,858.7L1878.4,856.4L1879.3,854.1L1880.2,851.8L1881.1,849.5L1882.0,847.2L1882.8,844.9L1883.7,842.5L1884.5,840.2L1885.4,837.9L1886.2,835.5L1887.0,833.2L1887.8,830.8L1888.6,828.4L1889.4,826.1L1890.2,823.7L1891.0,821.3L1891.8,819.0L1892.5,816.6L1893.3,814.2L1894.1,811.8L1894.8,809.4L1895.5,807.0L1896.3,804.6L1897.0,802.2L1897.7,799.8L1898.4,797.4L1899.2,795.0L1899.9,792.6L1900.6,790.1L1901.3,787.7L1901.9,785.3L1902.6,782.9L1903.3,780.5L1904.0,778.0L1904.6,775.6L1905.3,773.2L1906.0,770.7L1906.6,768.3L1907.3,765.9L1907.9,763.4L1908.6,761.0L1909.2,758.6L1909.8,756.1L1910.5,753.7L1911.1,751.2L1911.7,748.8L1912.4,746.4L1913.0,743.9L1913.6,741.5L1914.2,739.0L1914.8,736.6L1915.4,734.2L1916.0,731.7L1916.6,729.3L1917.2,726.8L1917.8,724.4L1918.4,722.0L1919.0,719.5L1919.6,717.1L1920.2,714.7L1920.8,712.2L1921.4,709.8L1922.0,707.3L1922.6,704.9L1923.1,702.5L1923.7,700.0L1924.3,697.6L1924.9,695.2L1925.4,692.8L1926.0,690.3L1926.6,687.9L1927.2,685.5L1927.7,683.0L1928.3,680.6L1928.8,678.2L1929.4,675.7L1930.0,673.3L1930.5,670.9L1931.1,668.4L1931.6,666.0L1932.2,663.6L1932.7,661.1L1933.3,658.7L1933.8,656.2L1934.3,653.8L1934.9,651.4L1935.4,648.9L1936.0,646.5L1936.5,644.0L1937.0,641.6L1937.5,639.1L1938.1,636.7L1938.6,634.3L1939.1,631.8L1939.6,629.4L1940.2,626.9L1940.7,624.5L1941.2,622.0L1941.7,619.6L1942.2,617.1L1942.7,614.7L1943.2,612.2L1943.7,609.7L1944.2,607.3L1944.7,604.8L1945.2,602.4L1945.7,599.9L1946.2,597.5L1946.7,595.0L1947.2,592.5L1947.7,590.1L1948.2,587.6L1948.7,585.2L1949.1,582.7L1949.6,580.2L1950.1,577.8L1950.6,575.3L1951.1,572.9L1951.5,570.4L1952.0,567.9L1952.5,565.5L1952.9,563.0L1953.4,560.5L1953.9,558.1L1954.3,555.6L1954.8,553.1L1955.3,550.7L1955.7,548.2L1956.2,545.7L1956.6,543.3L1957.1,540.8L1957.5,538.3L1958.0,535.9L1958.4,533.4L1958.9,530.9L1959.3,528.5L1959.8,526.0L1960.2,523.5L1960.7,521.1L1961.1,518.6L1961.6,516.1L1962.0,513.6L1962.4,511.2L1962.9,508.7L1963.3,506.2L1963.7,503.8L1964.2,501.3L1964.6,498.8L1965.0,496.4L1965.5,493.9L1965.9,491.4L1966.3,489.0L1966.7,486.5L1967.2,484.0L1967.6,481.6L1968.0,479.1L1968.4,476.6L1968.8,474.2L1969.3,471.7L1969.7,469.2L1970.1,466.8L1970.5,464.3L1970.9,461.8L1971.2,459.4L1971.6,456.9L1971.9,454.4L1972.3,452.0L1972.6,449.5L1972.9,447.0L1973.1,444.6L1973.4,442.1L1973.6,439.6L1973.8,437.1L1974.0,434.6L1974.1,432.2L1974.2,429.7L1974.3,427.2L1974.3,424.7L1974.2,424.8L1974.1,424.9L1974.0,425.0L1973.9,425.2L1973.7,425.4L1973.5,425.6L1973.3,425.9L1973.0,426.3L1972.7,426.8L1972.3,427.3L1971.9,427.9L1971.4,428.5L1971.0,429.2L1970.5,429.9L1970.0,430.5L1969.6,431.2L1969.2,431.9L1968.7,432.5L1968.3,433.2L1967.8,433.9L1967.4,434.7L1966.9,435.4L1966.5,436.0L1966.1,436.7L1965.7,437.3L1965.3,437.9L1965.0,438.5L1964.6,439.1L1964.2,439.7L1963.9,440.3L1963.5,440.9L1963.1,441.6L1962.7,442.3L1962.3,443.0L1961.9,443.8L1961.4,444.5L1961.0,445.3L1960.6,446.0L1960.1,446.8L1959.7,447.5L1959.3,448.2L1958.8,448.9L1958.4,449.6L1957.9,450.3L1957.5,451.0L1957.0,451.6L1956.6,452.3L1956.2,452.9L1955.8,453.5L1955.4,454.1L1955.0,454.6L1954.7,455.2L1954.3,455.7L1953.9,456.3L1953.6,456.8L1953.3,457.4L1953.0,458.0L1952.7,458.6L1952.5,459.2L1952.2,459.8L1952.0,460.4L1951.7,461.1L1951.5,461.7L1951.3,462.3L1951.1,462.9L1950.9,463.5L1950.7,464.1L1950.5,464.7L1950.3,465.4L1950.2,466.0L1950.0,466.6L1949.8,467.3L1949.6,468.0L1949.4,468.7L1949.2,469.5L1949.0,470.3L1948.9,471.0L1948.7,471.8L1948.5,472.5L1948.3,473.2L1948.1,473.9L1947.9,474.5L1947.7,475.1L1947.5,475.7L1947.4,476.3L1947.2,476.9L1947.0,477.5L1946.8,478.1L1946.6,478.7L1946.4,479.4L1946.2,480.2L1946.0,480.9L1945.8,481.5L1945.6,482.1L1945.5,482.6L1945.4,483.0L1944.5,485.4L1943.7,487.7L1942.8,490.1L1942.0,492.4L1941.2,494.8L1940.4,497.2L1939.6,499.6L1938.8,501.9L1938.0,504.3L1937.2,506.7L1936.5,509.1L1935.7,511.5L1935.0,513.9L1934.2,516.3L1933.5,518.7L1932.7,521.1L1932.0,523.4L1931.3,525.8L1930.5,528.2L1929.8,530.6L1929.1,533.0L1928.4,535.4L1927.7,537.8L1926.9,540.2L1926.2,542.6L1925.5,545.1L1924.8,547.5L1924.1,549.9L1923.3,552.3L1922.6,554.7L1921.9,557.1L1921.2,559.5L1920.4,561.9L1919.7,564.3L1919.0,566.7L1918.2,569.0L1917.5,571.4L1916.7,573.8L1916.0,576.2L1915.2,578.6L1914.5,581.0L1913.7,583.4L1912.9,585.8L1912.1,588.2L1911.4,590.6L1910.6,592.9L1909.8,595.3L1909.0,597.7L1908.2,600.1L1907.4,602.5L1906.6,604.8L1905.8,607.2L1904.9,609.6L1904.1,612.0L1903.3,614.3L1902.4,616.7L1901.6,619.1L1900.7,621.4L1899.9,623.8L1899.0,626.1L1898.2,628.5L1897.3,630.8L1896.4,633.2L1895.5,635.5L1894.6,637.9L1893.7,640.2L1892.8,642.6L1891.9,644.9L1891.0,647.2L1890.1,649.6L1889.2,651.9L1888.2,654.2L1887.3,656.6L1886.3,658.9L1885.4,661.2L1884.4,663.5L1883.4,665.8L1882.4,668.2L1881.5,670.5L1880.5,672.8L1879.5,675.1L1878.4,677.4L1877.4,679.7L1876.4,681.9L1875.4,684.2L1874.3,686.5L1873.2,688.8L1872.2,691.0L1871.1,693.3L1870.0,695.6L1868.9,697.8L1867.8,700.1L1866.7,702.3L1865.6,704.5L1864.4,706.8L1863.3,709.0L1862.1,711.2L1860.9,713.4L1859.8,715.6L1858.6,717.8L1857.4,720.0L1856.1,722.2L1854.9,724.3L1853.7,726.5L1852.4,728.6L1851.1,730.8L1849.9,732.9L1848.6,735.1L1847.3,737.2L1846.0,739.3L1844.7,741.5L1843.4,743.6L1842.1,745.7L1840.7,747.8L1839.4,749.9L1838.1,752.0L1836.7,754.1L1835.4,756.2L1834.0,758.3L1832.6,760.4L1831.3,762.5L1829.9,764.6L1828.5,766.7L1827.2,768.8L1825.8,770.9L1824.4,773.0L1823.1,775.1L1821.7,777.2L1820.3,779.3L1818.9,781.4L1817.6,783.5L1816.2,785.6L1814.8,787.7L1813.4,789.8L1812.1,791.9L1810.7,794.0L1809.3,796.1L1807.9,798.2L1806.5,800.3L1805.1,802.4L1803.8,804.5L1802.4,806.6L1801.0,808.7L1799.6,810.8L1798.2,812.9L1796.8,815.0L1795.4,817.1L1793.9,819.2L1792.5,821.3L1791.1,823.4L1789.7,825.4L1788.3,827.5L1786.8,829.6L1785.4,831.6L1783.9,833.7L1782.5,835.8L1781.0,837.8L1779.6,839.9L1778.1,841.9L1776.7,844.0L1775.2,846.0L1773.7,848.1L1772.2,850.1L1770.7,852.1L1769.2,854.1L1767.7,856.1L1766.2,858.1L1764.7,860.1L1763.1,862.1L1761.6,864.1L1760.1,866.1L1758.5,868.1L1757.0,870.0L1755.4,872.0L1753.8,873.9L1752.2,875.9L1750.6,877.8L1749.0,879.7L1747.4,881.7L1745.8,883.6L1744.2,885.5L1742.5,887.4L1740.9,889.3L1739.2,891.2L1737.6,893.0L1735.9,894.9L1734.2,896.8L1732.6,898.6L1730.9,900.5L1729.2,902.3L1727.5,904.1L1725.7,905.9L1724.0,907.8L1722.3,909.6L1720.6,911.4L1718.8,913.2L1717.1,914.9L1715.3,916.7L1713.5,918.5L1711.7,920.2L1710.0,922.0L1708.2,923.7L1706.4,925.5L1704.6,927.2L1702.8,928.9L1700.9,930.7L1699.1,932.4L1697.3,934.1L1695.4,935.8L1693.6,937.4L1691.7,939.1L1689.9,940.8L1688.0,942.5L1686.1,944.1L1684.2,945.8L1682.4,947.4L1680.5,949.0L1678.6,950.7L1676.7,952.3L1674.7,953.9L1672.8,955.5L1670.9,957.1L1669.0,958.7L1667.0,960.2L1665.1,961.8L1663.1,963.4L1661.1,964.9L1659.2,966.5L1657.2,968.0L1655.2,969.6L1653.2,971.1L1651.3,972.6L1649.3,974.1L1647.3,975.6L1645.2,977.1L1643.2,978.6L1641.2,980.1L1639.2,981.6L1637.1,983.0L1635.1,984.5L1633.1,985.9L1631.0,987.4L1629.0,988.8L1626.9,990.2L1624.8,991.6L1622.8,993.1L1620.7,994.5L1618.6,995.9L1616.5,997.2L1614.4,998.6L1612.3,1000.0L1610.2,1001.4L1608.1,1002.7L1606.0,1004.1L1603.9,1005.4L1601.8,1006.7L1599.6,1008.1L1597.5,1009.4L1595.3,1010.7L1593.2,1012.0L1591.1,1013.3L1588.9,1014.6L1586.7,1015.9L1584.6,1017.2L1582.4,1018.4L1580.2,1019.7L1578.1,1020.9L1575.9,1022.2L1573.7,1023.4L1571.5,1024.6L1569.3,1025.9L1567.1,1027.1L1564.9,1028.3L1562.7,1029.5L1560.5,1030.7L1558.3,1031.8L1556.0,1033.0L1553.8,1034.2L1551.6,1035.3L1549.4,1036.5L1547.1,1037.6L1544.9,1038.8L1542.6,1039.9L1540.4,1041.0L1538.1,1042.1L1535.9,1043.2L1533.6,1044.3L1531.4,1045.4L1529.1,1046.5L1526.8,1047.6L1524.5,1048.6L1522.3,1049.7L1520.0,1050.8L1517.7,1051.8L1515.4,1052.8L1513.1,1053.9L1510.8,1054.9L1508.5,1055.9L1506.2,1056.9L1503.9,1057.9L1501.6,1058.9L1499.3,1059.9L1497.0,1060.8L1494.7,1061.8L1492.3,1062.8L1490.0,1063.7L1487.7,1064.7L1485.4,1065.6L1483.0,1066.5L1480.7,1067.4L1478.4,1068.4L1476.0,1069.3L1473.7,1070.2L1471.3,1071.1L1469.0,1071.9L1466.6,1072.8L1464.3,1073.7L1461.9,1074.5L1459.6,1075.4L1457.2,1076.2L1454.8,1077.1L1452.5,1077.9L1450.1,1078.7L1447.7,1079.5L1445.4,1080.3L1443.0,1081.1L1440.6,1081.9L1438.2,1082.7L1435.9,1083.5L1433.5,1084.3L1431.1,1085.0L1428.7,1085.8L1426.3,1086.6L1423.9,1087.3L1421.5,1088.0L1419.1,1088.8L1416.7,1089.5L1414.3,1090.2L1411.9,1090.9L1409.5,1091.7L1407.1,1092.4L1404.7,1093.1L1402.3,1093.7L1399.9,1094.4L1397.5,1095.1L1395.1,1095.8L1392.6,1096.5L1390.2,1097.1L1387.8,1097.8L1385.4,1098.4L1383.0,1099.1L1380.5,1099.7L1378.1,1100.4L1375.7,1101.0L1373.3,1101.6L1370.8,1102.2L1368.4,1102.9L1366.0,1103.5L1363.5,1104.1L1361.1,1104.7L1358.7,1105.3L1356.2,1105.9L1353.8,1106.5L1351.3,1107.0L1348.9,1107.6L1346.4,1108.2L1344.0,1108.8L1341.6,1109.3L1339.1,1109.9L1336.7,1110.5L1334.2,1111.0L1331.8,1111.6L1329.3,1112.1L1326.9,1112.6L1324.4,1113.2L1321.9,1113.7L1319.5,1114.2L1317.0,1114.8L1314.6,1115.3L1312.1,1115.8L1309.7,1116.3L1307.2,1116.9L1304.7,1117.4L1302.3,1117.9L1299.8,1118.4L1297.3,1118.9L1294.9,1119.4L1292.4,1119.9L1289.9,1120.4L1287.5,1120.9L1285.0,1121.3L1282.5,1121.8L1280.1,1122.3L1277.6,1122.8L1275.1,1123.3L1272.7,1123.7L1270.2,1124.2L1267.7,1124.7L1265.3,1125.2L1262.8,1125.6L1260.3,1126.1L1257.8,1126.6L1255.4,1127.0L1252.9,1127.5L1250.4,1127.9L1248.0,1128.4L1245.5,1128.8L1243.0,1129.3L1240.5,1129.7L1238.1,1130.2L1235.6,1130.6L1233.1,1131.1L1230.6,1131.5L1228.2,1132.0L1225.7,1132.4L1223.2,1132.9L1220.7,1133.3L1218.3,1133.7L1215.8,1134.2L1213.3,1134.6L1210.9,1135.1L1208.4,1135.5L1205.9,1135.9L1203.4,1136.4L1201.0,1136.8L1198.5,1137.2L1196.0,1137.7L1193.5,1138.1L1191.1,1138.5L1188.6,1139.0L1186.1,1139.4L1183.7,1139.8L1181.2,1140.3L1178.7,1140.7L1176.3,1141.1L1173.8,1141.6L1171.3,1142.0L1168.8,1142.4L1166.4,1142.8L1163.9,1143.3L1161.4,1143.7L1159.0,1144.1L1156.5,1144.5L1154.0,1145.0L1151.6,1145.4L1149.1,1145.8L1146.6,1146.2L1144.2,1146.6L1141.7,1147.0L1139.2,1147.4L1136.7,1147.8L1134.3,1148.3L1131.8,1148.7L1129.3,1149.1L1126.9,1149.5L1124.4,1149.9L1121.9,1150.3L1119.4,1150.7L1117.0,1151.0L1114.5,1151.4L1112.0,1151.8L1109.6,1152.2L1107.1,1152.6L1104.6,1153.0L1102.1,1153.3L1099.7,1153.7L1097.2,1154.1L1094.7,1154.5L1092.2,1154.8L1089.8,1155.2L1087.3,1155.5L1084.8,1155.9L1082.3,1156.3L1079.9,1156.6L1077.4,1156.9L1074.9,1157.3L1072.4,1157.6L1069.9,1158.0L1067.5,1158.3L1065.0,1158.6L1062.5,1159.0L1060.0,1159.3L1057.5,1159.6L1055.1,1159.9L1052.6,1160.2L1050.1,1160.5L1047.6,1160.8L1045.1,1161.1L1042.6,1161.4L1040.1,1161.7L1037.7,1162.0L1035.2,1162.3L1032.7,1162.6L1030.2,1162.8L1027.7,1163.1L1025.2,1163.4L1022.7,1163.6L1020.2,1163.9L1017.7,1164.1L1015.2,1164.4L1012.7,1164.6L1010.2,1164.9L1007.7,1165.1L1005.2,1165.3L1002.7,1165.6L1000.2,1165.8L997.7,1166.0L995.2,1166.2L992.7,1166.4L990.2,1166.6L987.7,1166.8L985.2,1167.0L982.7,1167.1L980.1,1167.3L977.6,1167.5L975.1,1167.6L972.6,1167.8L970.1,1168.0L967.6,1168.1L965.0,1168.2L962.5,1168.4L960.0,1168.5L960.8,1168.1L958.3,1168.3L955.8,1168.5L953.3,1168.6L950.8,1168.8L948.3,1168.9L945.8,1169.1L943.3,1169.3L940.8,1169.4L938.3,1169.6L935.8,1169.7L933.3,1169.9L930.8,1170.1L928.3,1170.2L925.8,1170.4L923.3,1170.5L920.8,1170.7L918.3,1170.9L915.8,1171.0L913.3,1171.2L910.8,1171.3L908.3,1171.5L905.8,1171.6L903.3,1171.8L900.8,1172.0L898.3,1172.1L895.8,1172.3L893.3,1172.4L890.8,1172.6L888.3,1172.7L885.8,1172.9L883.3,1173.1L880.8,1173.2L878.2,1173.4L875.7,1173.5L873.2,1173.7L870.7,1173.8L868.2,1174.0L865.7,1174.2L863.2,1174.3L860.7,1174.5" stroke="#f00"/>
<path d="M305.8,1145.8L308.1,1144.6L310.4,1143.4L312.7,1142.2L315.0,1141.0L317.3,1139.9L319.6,1138.8L321.9,1137.8L324.2,1136.8L326.6,1135.8L328.9,1134.8L331.2,1133.9L333.6,1133.0L336.0,1132.1L338.3,1131.2L340.7,1130.4L343.0,1129.6L345.4,1128.8L347.8,1128.1L350.2,1127.3L352.6,1126.6L355.0,1125.9L357.4,1125.3L359.8,1124.6L362.2,1124.0L364.6,1123.4L367.0,1122.9L369.5,1122.3L371.9,1121.8L374.3,1121.2L376.8,1120.7L379.2,1120.3L381.7,1119.8L384.1,1119.4L386.6,1118.9L389.0,1118.5L391.5,1118.1L393.9,1117.7L396.4,1117.3L398.9,1117.0L401.3,1116.6L403.8,1116.3L406.3,1116.0L408.8,1115.7L411.2,1115.4L413.7,1115.1L416.2,1114.8L418.7,1114.5L421.2,1114.3L423.7,1114.0L426.1,1113.8L428.6,1113.5L431.1,1113.3L433.6,1113.0L436.1,1112.8L438.6,1112.6L441.1,1112.4L443.6,1112.2L446.1,1112.0L448.6,1111.8L451.1,1111.6L453.6,1111.4L456.1,1111.1L458.6,1110.9L461.1,1110.7L463.6,1110.5L466.1,1110.3L468.6,1110.1L471.1,1109.9L473.6,1109.7L476.1,1109.5L478.6,1109.3L481.1,1109.2L483.6,1109.0L486.1,1108.8L488.6,1108.6L491.1,1108.4L493.6,1108.2L496.1,1108.0L498.6,1107.8L501.1,1107.6L503.5,1107.4L506.0,1107.2L508.5,1107.0L511.0,1106.8L513.5,1106.6L516.0,1106.4L518.5,1106.2L521.0,1106.1L523.5,1105.9L526.0,1105.7L528.5,1105.5L531.0,1105.3L533.5,1105.1L536.0,1104.9L538.5,1104.7L541.0,1104.5L543.5,1104.4L546.0,1104.2L548.5,1104.0L551.0,1103.8L553.5,1103.6L556.0,1103.4L558.5,1103.2L561.0,1103.1L563.5,1102.9L566.0,1102.7L568.5,1102.5L571.0,1102.3L573.5,1102.1L576.0,1102.0L578.5,1101.8L581.0,1101.6L583.5,1101.4L585.9,1101.2L588.4,1101.1L590.9,1100.9L593.4,1100.7L595.9,1100.5L598.4,1100.3L600.9,1100.2L603.4,1100.0L605.9,1099.8L608.4,1099.6L610.9,1099.4L613.4,1099.3L615.9,1099.1L618.4,1098.9L620.9,1098.7L623.4,1098.5L625.9,1098.4L628.4,1098.2L630.9,1098.0L633.4,1097.8L635.9,1097.7L638.4,1097.5L640.9,1097.3L643.4,1097.1L645.9,1096.9L648.4,1096.8L650.9,1096.6L653.4,1096.4L655.8,1096.2L658.3,1096.1L660.8,1095.9L663.3,1095.7L665.8,1095.5L668.3,1095.4L670.8,1095.2L673.3,1095.0L675.8,1094.8L678.3,1094.7L680.8,1094.5L683.3,1094.3L685.8,1094.1L688.3,1094.0L690.8,1093.8L693.3,1093.6L695.8,1093.4L698.3,1093.3L700.8,1093.1L703.3,1092.9L705.8,1092.7L708.3,1092.6L710.8,1092.4L713.3,1092.2L715.8,1092.0L718.2,1091.8L720.7,1091.7L723.2,1091.5L725.7,1091.3L728.2,1091.1L730.7,1091.0L733.2,1090.8L735.7,1090.6L738.2,1090.4L740.7,1090.3L743.2,1090.1L745.7,1089.9L748.2,1089.7L750.7,1089.6L753.2,1089.4L755.7,1089.2L758.2,1089.0L760.7,1088.9L763.2,1088.7L765.7,1088.5L768.2,1088.3L770.7,1088.2L773.1,1088.0L775.6,1087.8L778.1,1087.6L780.6,1087.4L783.1,1087.3L785.6,1087.1L788.1,1086.9L790.6,1086.7L793.1,1086.6L795.6,1086.4L798.1,1086.2L800.6,1086.0L803.1,1085.8L805.6,1085.7L808.1,1085.5L810.6,1085.3L813.1,1085.1L815.6,1084.9L818.1,1084.8L820.6,1084.6L823.1,1084.4L825.5,1084.2L828.0,1084.0L830.5,1083.9L833.0,1083.7L835.5,1083.5L838.0,1083.3L840.5,1083.1L843.0,1082.9L845.5,1082.8L848.0,1082.6L850.5,1082.4L853.0,1082.2L855.5,1082.0L858.0,1081.8L860.5,1081.6L863.0,1081.5L865.5,1081.3L868.0,1081.1L870.5,1080.9L873.0,1080.7L875.4,1080.5L877.9,1080.3L880.4,1080.1L882.9,1080.0L885.4,1079.8L887.9,1079.6L890.4,1079.4L892.9,1079.2L895.4,1079.0L897.9,1078.8L900.4,1078.6L902.9,1078.4L905.4,1078.2L907.9,1078.0L910.4,1077.9L912.9,1077.7L915.4,1077.5L917.9,1077.3L920.4,1077.1L922.9,1076.9L925.3,1076.7L927.8,1076.5L930.3,1076.3L932.8,1076.1L935.3,1075.9L937.8,1075.7L940.3,1075.5L942.8,1075.3L945.3,1075.1L947.8,1074.9L950.3,1074.7L952.8,1074.5L955.3,1074.3L957.8,1074.1L960.3,1073.9L962.8,1073.7L965.3,1073.5L967.8,1073.3L970.2,1073.1L972.7,1072.9L975.2,1072.7L977.7,1072.4L980.2,1072.2L982.7,1072.0L985.2,1071.8L987.7,1071.6L990.2,1071.4L992.7,1071.2L995.2,1071.0L997.7,1070.8L1000.2,1070.6L1002.7,1070.3L1005.2,1070.1L1007.7,1069.9L1010.2,1069.7L1012.7,1069.5L1015.2,1069.3L1017.6,1069.0L1020.1,1068.8L1022.6,1068.6L1025.1,1068.4L1027.6,1068.2L1030.1,1067.9L1032.6,1067.7L1035.1,1067.5L1037.6,1067.3L1040.1,1067.1L1042.6,1066.8L1045.1,1066.6L1047.6,1066.4L1050.1,1066.2L1052.6,1065.9L1055.1,1065.7L1057.6,1065.5L1060.1,1065.2L1062.5,1065.0L1065.0,1064.8L1067.5,1064.6L1070.0,1064.3L1072.5,1064.1L1075.0,1063.9L1077.5,1063.6L1080.0,1063.4L1082.5,1063.2L1085.0,1062.9L1087.5,1062.7L1090.0,1062.4L1092.5,1062.2L1095.0,1062.0L1097.5,1061.7L1099.9,1061.5L1102.4,1061.2L1104.9,1061.0L1107.4,1060.8L1109.9,1060.5L1112.4,1060.3L1114.9,1060.0L1117.4,1059.8L1119.9,1059.5L1122.4,1059.3L1124.9,1059.0L1127.4,1058.8L1129.9,1058.5L1132.4,1058.3L1134.8,1058.0L1137.3,1057.8L1139.8,1057.5L1142.3,1057.3L1144.8,1057.0L1147.3,1056.8L1149.8,1056.5L1152.3,1056.3L1154.8,1056.0L1157.3,1055.7L1159.8,1055.5L1162.2,1055.2L1164.7,1055.0L1167.2,1054.7L1169.7,1054.4L1172.2,1054.2L1174.7,1053.9L1177.2,1053.7L1179.7,1053.4L1182.2,1053.1L1184.7,1052.9L1187.1,1052.6L1189.6,1052.3L1192.1,1052.1L1194.6,1051.8L1197.1,1051.5L1199.6,1051.2L1202.1,1051.0L1204.6,1050.7L1207.1,1050.4L1209.5,1050.1L1212.0,1049.9L1214.5,1049.6L1217.0,1049.3L1219.5,1049.0L1222.0,1048.8L1224.5,1048.5L1227.0,1048.2L1229.4,1047.9L1231.9,1047.6L1234.4,1047.3L1236.9,1047.1L1239.4,1046.8L1241.9,1046.5L1244.4,1046.2L1246.8,1045.9L1249.3,1045.6L1251.8,1045.3L1254.3,1045.0L1256.8,1044.7L1259.3,1044.5L1261.8,1044.2L1264.2,1043.9L1266.7,1043.6L1269.2,1043.3L1271.7,1043.0L1274.2,1042.7L1276.7,1042.4L1279.1,1042.1L1281.6,1041.8L1284.1,1041.5L1286.6,1041.2L1289.1,1040.9L1291.6,1040.5L1294.0,1040.2L1296.5,1039.9L1299.0,1039.6L1301.5,1039.3L1304.0,1039.0L1306.4,1038.7L1308.9,1038.3L1311.4,1038.0L1313.9,1037.7L1316.4,1037.4L1318.8,1037.0L1321.3,1036.7L1323.8,1036.4L1326.3,1036.1L1328.8,1035.7L1331.2,1035.4L1333.7,1035.1L1336.2,1034.7L1338.7,1034.4L1341.1,1034.0L1343.6,1033.7L1346.1,1033.3L1348.6,1033.0L1351.0,1032.6L1353.5,1032.3L1356.0,1031.9L1358.5,1031.6L1360.9,1031.2L1363.4,1030.8L1365.9,1030.5L1368.3,1030.1L1370.8,1029.7L1373.3,1029.4L1375.8,1029.0L1378.2,1028.6L1380.7,1028.2L1383.2,1027.9L1385.6,1027.5L1388.1,1027.1L1390.6,1026.7L1393.0,1026.3L1395.5,1025.9L1398.0,1025.5L1400.4,1025.1L1402.9,1024.7L1405.4,1024.3L1407.8,1023.9L1410.3,1023.5L1412.8,1023.0L1415.2,1022.6L1417.7,1022.2L1420.1,1021.8L1422.6,1021.4L1425.1,1020.9L1427.5,1020.5L1430.0,1020.0L1432.5,1019.6L1434.9,1019.2L1437.4,1018.7L1439.8,1018.3L1442.3,1017.8L1444.7,1017.4L1447.2,1016.9L1449.7,1016.4L1452.1,1016.0L1454.6,1015.5L1457.0,1015.0L1459.5,1014.5L1461.9,1014.0L1464.4,1013.6L1466.8,1013.1L1469.3,1012.6L1471.7,1012.1L1474.2,1011.6L1476.6,1011.1L1479.1,1010.6L1481.5,1010.1L1484.0,1009.5L1486.4,1009.0L1488.9,1008.5L1491.3,1008.0L1493.8,1007.4L1496.2,1006.9L1498.6,1006.4L1501.1,1005.8L1503.5,1005.3L1506.0,1004.7L1508.4,1004.2L1510.9,1003.6L1513.3,1003.0L1515.7,1002.5L1518.2,1001.9L1520.6,1001.3L1523.0,1000.7L1525.5,1000.1L1527.9,999.5L1530.3,998.9L1532.8,998.3L1535.2,997.7L1537.6,997.1L1540.1,996.5L1542.5,995.9L1544.9,995.3L1547.4,994.6L1549.8,994.0L1552.2,993.4L1554.7,992.7L1557.1,992.1L1559.5,991.4L1561.9,990.8L1564.3,990.1L1566.8,989.4L1569.2,988.7L1571.6,988.0L1574.0,987.4L1576.4,986.7L1578.8,986.0L1581.2,985.2L1583.6,984.5L1586.0,983.8L1588.5,983.1L1590.8,982.3L1593.2,981.6L1595.6,980.8L1598.0,980.1L1600.4,979.3L1602.8,978.5L1605.2,977.7L1607.6,977.0L1609.9,976.2L1612.3,975.3L1614.7,974.5L1617.1,973.7L1619.4,972.9L1621.8,972.0L1624.1,971.2L1626.5,970.3L1628.8,969.5L1631.2,968.6L1633.5,967.7L1635.9,966.8L1638.2,965.9L1640.5,965.0L1642.9,964.1L1645.2,963.1L1647.5,962.2L1649.8,961.2L1652.1,960.3L1654.4,959.3L1656.7,958.3L1659.0,957.3L1661.3,956.3L1663.6,955.3L1665.9,954.3L1668.2,953.2L1670.4,952.2L1672.7,951.1L1674.9,950.1L1677.2,949.0L1679.4,947.9L1681.7,946.8L1683.9,945.6L1686.1,944.5L1688.3,943.3L1690.5,942.2L1692.7,941.0L1694.9,939.8L1697.1,938.6L1699.3,937.3L1701.5,936.1L1703.6,934.8L1705.8,933.6L1707.9,932.3L1710.0,931.0L1712.2,929.7L1714.3,928.3L1716.4,927.0L1718.5,925.6L1720.5,924.2L1722.6,922.8L1724.7,921.4L1726.7,920.0L1728.7,918.5L1730.8,917.1L1732.8,915.6L1734.8,914.1L1736.8,912.6L1738.8,911.1L1740.7,909.5L1742.7,908.0L1744.6,906.4L1746.5,904.8L1748.5,903.2L1750.4,901.6L1752.3,900.0L1754.1,898.4L1756.0,896.7L1757.9,895.0L1759.7,893.3L1761.5,891.6L1763.3,889.9L1765.1,888.2L1766.9,886.5L1768.7,884.7L1770.4,882.9L1772.2,881.1L1773.9,879.3L1775.6,877.5L1777.3,875.7L1779.0,873.8L1780.7,872.0L1782.3,870.1L1783.9,868.2L1785.6,866.3L1787.2,864.4L1788.8,862.5L1790.4,860.6L1791.9,858.6L1793.5,856.7L1795.0,854.7L1796.6,852.7L1798.1,850.7L1799.6,848.7L1801.1,846.7L1802.5,844.7L1804.0,842.7L1805.4,840.6L1806.9,838.6L1808.3,836.5L1809.7,834.4L1811.1,832.4L1812.5,830.3L1813.9,828.2L1815.2,826.1L1816.6,823.9L1817.9,821.8L1819.2,819.7L1820.5,817.5L1821.8,815.4L1823.1,813.2L1824.4,811.1L1825.7,808.9L1826.9,806.7L1828.1,804.5L1829.4,802.3L1830.6,800.1L1831.8,797.9L1833.0,795.7L1834.2,793.5L1835.3,791.3L1836.5,789.0L1837.6,786.8L1838.8,784.6L1839.9,782.3L1841.0,780.1L1842.1,777.8L1843.2,775.5L1844.3,773.3L1845.4,771.0L1846.4,768.7L1847.5,766.5L1848.5,764.2L1849.6,761.9L1850.6,759.6L1851.6,757.3L1852.6,755.0L1853.6,752.7L1854.6,750.4L1855.5,748.1L1856.5,745.8L1857.5,743.5L1858.4,741.2L1859.3,738.9L1860.3,736.5L1861.2,734.2L1862.1,731.9L1863.0,729.5L1863.9,727.2L1864.8,724.9L1865.6,722.5L1866.5,720.2L1867.4,717.8L1868.2,715.5L1869.1,713.1L1869.9,710.8L1870.7,708.4L1871.6,706.0L1872.4,703.7L1873.2,701.3L1874.0,699.0L1874.8,696.6L1875.6,694.2L1876.3,691.8L1877.1,689.5L1877.9,687.1L1878.6,684.7L1879.4,682.3L1880.1,679.9L1880.9,677.5L1881.6,675.2L1882.3,672.8L1883.1,670.4L1883.8,668.0L1884.5,665.6L1885.2,663.2L1885.9,660.8L1886.6,658.4L1887.3,656.0L1888.0,653.6L1888.6,651.2L1889.3,648.8L1890.0,646.4L1890.6,644.0L1891.3,641.5L1891.9,639.1L1892.6,636.7L1893.2,634.3L1893.9,631.9L1894.5,629.5L1895.1,627.1L1895.7,624.6L1896.3,622.2L1897.0,619.8L1897.6,617.4L1898.2,614.9L1898.7,612.5L1899.3,610.1L1899.9,607.7L1900.5,605.2L1901.1,602.8L1901.7,600.4L1902.2,597.9L1902.8,595.5L1903.3,593.0L1903.9,590.6L1904.4,588.2L1905.0,585.7L1905.5,583.3L1906.1,580.8L1906.6,578.4L1907.1,576.0L1907.7,573.5L1908.2,571.1L1908.7,568.6L1909.2,566.2L1909.7,563.7L1910.2,561.3L1910.7,558.8L1911.2,556.4L1911.7,553.9L1912.2,551.5L1912.7,549.0L1913.2,546.6L1913.7,544.1L1914.2,541.6L1914.7,539.2L1915.1,536.7L1915.6,534.3L1916.1,531.8L1916.5,529.3L1917.0,526.9L1917.5,524.4L1917.9,522.0L1918.4,519.5L1918.8,517.0L1919.3,514.6L1919.7,512.1L1920.2,509.6L1920.6,507.2L1921.1,504.7L1921.5,502.2L1921.9,499.8L1922.4,497.3L1922.8,494.8L1923.2,492.4L1923.7,489.9L1924.1,487.4L1924.5,485.0L1924.9,482.5L1925.3,480.0L1925.8,477.6L1926.2,475.1L1926.6,472.6L1927.0,470.1L1927.4,467.7L1927.8,465.2L1928.2,462.7L1928.7,460.3L1929.1,457.8L1929.5,455.3L1929.9,452.8L1930.3,450.4L1930.7,447.9L1931.1,445.4L1931.5,443.0L1931.9,440.5L1932.3,438.0L1932.7,435.5L1933.1,433.1L1933.5,430.6L1933.9,428.1L1934.3,425.6L1934.7,423.2L1935.1,420.7L1935.4,418.2L1935.8,415.8L1936.2,413.3L1936.6,410.8L1937.0,408.3L1937.4,405.9L1937.8,403.4L1938.2,400.9L1938.6,398.4L1939.0,396.0L1939.4,393.5L1939.7,391.0L1940.1,388.6L1940.5,386.1L1940.9,383.6L1941.3,381.1L1941.7,378.7L1942.1,376.2L1942.4,373.7L1942.8,371.3L1943.2,368.8L1943.6,366.3L1944.0,363.8L1944.4,361.4L1944.8,358.9L1945.1,356.4L1945.5,354.0L1945.9,351.5L1946.3,349.0L1946.7,346.5L1947.1,344.1L1947.5,341.6L1947.8,339.1L1948.2,336.7L1948.6,334.2L1949.0,331.7L1949.4,329.2L1949.8,326.8L1950.1,324.3L1950.5,321.8L1950.9,319.4L1951.3,316.9L1951.7,314.4L1952.1,312.0L1952.4,309.5L1952.8,307.0L1953.2,304.5L1953.6,302.1L1954.0,299.6L1954.4,297.1L1954.7,294.7L1955.1,292.2L1955.5,289.7L1955.9,287.2L1956.3,284.8L1956.7,282.3L1957.1,279.8L1957.5,277.4L1957.8,274.9L1958.2,272.4L1958.6,270.0L1959.0,267.5L1959.4,265.0L1959.8,262.5L1960.2,260.1L1960.6,257.6L1961.0,255.1L1961.3,252.7L1961.7,250.2L1962.1,247.7L1962.5,245.3L1962.9,242.8L1963.3,240.3L1963.7,237.8L1964.1,235.4L1964.5,232.9L1964.9,230.4L1965.3,228.0L1965.7,225.5L1966.1,223.0L1966.5,220.5L1966.9,218.1L1967.2,215.6L1967.6,213.1L1968.0,210.7L1968.4,208.2L1968.8,205.7L1969.1,203.3L1969.5,200.8L1969.8,198.3L1970.2,195.8L1970.5,193.4L1970.9,190.9L1971.2,188.4L1971.5,186.0L1971.8,183.5L1972.1,181.0L1972.3,178.6L1972.6,176.1L1972.8,173.6L1973.1,171.1L1973.3,168.7L1973.5,166.2L1973.6,163.7L1973.8,161.3L1974.0,158.8L1974.1,156.3L1974.2,153.8L1974.3,151.4L1974.3,148.9L1974.4,146.4L1974.4,144.0L1974.4,141.5L1974.3,141.8L1974.1,142.3L1973.9,142.8L1973.6,143.3L1973.4,144.0L1973.1,144.6L1972.7,145.4L1972.4,146.1L1972.0,146.9L1971.6,147.8L1971.1,148.7L1970.7,149.6L1970.2,150.6L1969.7,151.6L1969.2,152.6L1968.7,153.5L1968.2,154.4L1967.8,155.3L1967.3,156.3L1966.8,157.2L1966.4,158.1L1965.9,159.1L1965.5,160.0L1965.0,160.9L1964.5,161.8L1964.1,162.8L1963.6,163.7L1963.2,164.6L1962.7,165.5L1962.2,166.5L1961.8,167.4L1961.3,168.3L1960.8,169.2L1960.4,170.2L1959.9,171.1L1959.4,172.0L1958.9,172.9L1958.5,173.8L1958.0,174.8L1957.6,175.7L1957.2,176.6L1956.8,177.5L1956.4,178.5L1956.0,179.4L1955.6,180.3L1955.3,181.2L1954.9,182.2L1954.6,183.1L1954.3,184.0L1954.0,185.0L1953.7,185.9L1953.4,186.8L1953.2,187.8L1952.9,188.7L1952.7,189.7L1952.4,190.6L1952.2,191.5L1951.9,192.5L1951.7,193.4L1951.5,194.3L1951.3,195.2L1951.0,196.2L1950.8,197.1L1950.6,198.0L1950.4,198.9L1950.1,199.8L1949.9,200.8L1949.6,201.7L1949.4,202.6L1949.2,203.6L1948.9,204.5L1948.7,205.4L1948.5,206.3L1948.3,207.2L1948.1,208.2L1947.9,209.1L1947.7,210.0L1947.4,211.0L1947.2,211.9L1947.0,212.8L1946.8,213.8L1946.5,214.8L1946.2,215.9L1945.9,217.0L1945.6,218.0L1945.4,218.9L1945.2,219.6L1945.0,220.2L1944.3,222.6L1943.7,225.0L1943.1,227.4L1942.4,229.8L1941.8,232.3L1941.1,234.7L1940.5,237.1L1939.9,239.5L1939.2,241.9L1938.6,244.4L1938.0,246.8L1937.4,249.2L1936.8,251.6L1936.1,254.0L1935.5,256.5L1934.9,258.9L1934.3,261.3L1933.7,263.8L1933.1,266.2L1932.4,268.6L1931.8,271.1L1931.2,273.5L1930.6,275.9L1930.0,278.4L1929.4,280.8L1928.8,283.2L1928.2,285.7L1927.6,288.1L1927.0,290.5L1926.4,293.0L1925.8,295.4L1925.1,297.8L1924.5,300.3L1923.9,302.7L1923.3,305.2L1922.7,307.6L1922.1,310.0L1921.5,312.5L1920.9,314.9L1920.3,317.4L1919.7,319.8L1919.0,322.2L1918.4,324.7L1917.8,327.1L1917.2,329.5L1916.6,332.0L1915.9,334.4L1915.3,336.8L1914.7,339.3L1914.1,341.7L1913.4,344.1L1912.8,346.6L1912.2,349.0L1911.5,351.4L1910.9,353.9L1910.3,356.3L1909.6,358.7L1909.0,361.2L1908.3,363.6L1907.6,366.0L1907.0,368.4L1906.3,370.9L1905.7,373.3L1905.0,375.7L1904.3,378.1L1903.6,380.5L1903.0,383.0L1902.3,385.4L1901.6,387.8L1900.9,390.2L1900.2,392.6L1899.5,395.0L1898.8,397.4L1898.1,399.8L1897.4,402.2L1896.7,404.6L1895.9,407.0L1895.2,409.4L1894.5,411.8L1893.7,414.2L1893.0,416.6L1892.2,419.0L1891.5,421.4L1890.7,423.8L1889.9,426.2L1889.2,428.6L1888.4,430.9L1887.6,433.3L1886.8,435.7L1886.0,438.1L1885.2,440.4L1884.4,442.8L1883.6,445.2L1882.8,447.5L1881.9,449.9L1881.1,452.2L1880.3,454.6L1879.4,457.0L1878.6,459.3L1877.7,461.7L1876.8,464.0L1876.0,466.3L1875.1,468.7L1874.2,471.0L1873.3,473.4L1872.4,475.7L1871.5,478.0L1870.6,480.4L1869.7,482.7L1868.8,485.0L1867.8,487.3L1866.9,489.7L1866.0,492.0L1865.0,494.3L1864.1,496.6L1863.1,498.9L1862.2,501.2L1861.2,503.5L1860.2,505.8L1859.3,508.1L1858.3,510.4L1857.3,512.7L1856.3,515.0L1855.3,517.3L1854.3,519.6L1853.3,521.9L1852.3,524.2L1851.3,526.5L1850.2,528.8L1849.2,531.0L1848.2,533.3L1847.1,535.6L1846.1,537.9L1845.0,540.1L1844.0,542.4L1842.9,544.7L1841.9,547.0L1840.8,549.2L1839.7,551.5L1838.6,553.7L1837.5,556.0L1836.5,558.2L1835.4,560.5L1834.3,562.8L1833.2,565.0L1832.1,567.3L1830.9,569.5L1829.8,571.7L1828.7,574.0L1827.6,576.2L1826.5,578.5L1825.3,580.7L1824.2,582.9L1823.0,585.2L1821.9,587.4L1820.7,589.6L1819.6,591.8L1818.4,594.1L1817.2,596.3L1816.1,598.5L1814.9,600.7L1813.7,602.9L1812.5,605.2L1811.4,607.4L1810.2,609.6L1809.0,611.8L1807.8,614.0L1806.6,616.2L1805.4,618.4L1804.2,620.6L1802.9,622.8L1801.7,625.0L1800.5,627.2L1799.3,629.4L1798.0,631.6L1796.8,633.8L1795.6,636.0L1794.3,638.2L1793.1,640.3L1791.8,642.5L1790.6,644.7L1789.3,646.9L1788.0,649.0L1786.8,651.2L1785.5,653.4L1784.2,655.5L1782.9,657.7L1781.7,659.9L1780.4,662.0L1779.1,664.2L1777.8,666.3L1776.5,668.5L1775.1,670.6L1773.8,672.8L1772.5,674.9L1771.2,677.0L1769.9,679.2L1768.5,681.3L1767.2,683.4L1765.8,685.5L1764.5,687.7L1763.1,689.8L1761.8,691.9L1760.4,694.0L1759.0,696.1L1757.7,698.2L1756.3,700.3L1754.9,702.4L1753.5,704.5L1752.1,706.6L1750.7,708.7L1749.3,710.7L1747.9,712.8L1746.5,714.9L1745.0,717.0L1743.6,719.0L1742.2,721.1L1740.7,723.1L1739.3,725.2L1737.9,727.2L1736.4,729.3L1734.9,731.3L1733.5,733.3L1732.0,735.4L1730.5,737.4L1729.0,739.4L1727.5,741.4L1726.0,743.4L1724.5,745.4L1723.0,747.4L1721.5,749.4L1720.0,751.4L1718.5,753.4L1716.9,755.4L1715.4,757.3L1713.9,759.3L1712.3,761.3L1710.8,763.2L1709.2,765.2L1707.6,767.1L1706.1,769.1L1704.5,771.0L1702.9,772.9L1701.3,774.9L1699.7,776.8L1698.1,778.7L1696.5,780.6L1694.8,782.5L1693.2,784.4L1691.6,786.3L1689.9,788.1L1688.3,790.0L1686.6,791.9L1684.9,793.7L1683.2,795.6L1681.6,797.4L1679.9,799.2L1678.2,801.0L1676.4,802.9L1674.7,804.7L1673.0,806.5L1671.2,808.2L1669.5,810.0L1667.7,811.8L1665.9,813.5L1664.2,815.3L1662.4,817.0L1660.6,818.7L1658.8,820.5L1656.9,822.2L1655.1,823.9L1653.3,825.6L1651.4,827.3L1649.6,828.9L1647.7,830.6L1645.9,832.3L1644.0,833.9L1642.1,835.6L1640.2,837.2L1638.3,838.8L1636.4,840.5L1634.5,842.1L1632.6,843.7L1630.7,845.3L1628.8,846.9L1626.8,848.5L1624.9,850.1L1623.0,851.7L1621.0,853.3L1619.1,854.9L1617.1,856.5L1615.2,858.1L1613.2,859.7L1611.2,861.2L1609.3,862.8L1607.3,864.4L1605.3,865.9L1603.3,867.5L1601.4,869.0L1599.4,870.6L1597.4,872.1L1595.4,873.7L1593.4,875.2L1591.4,876.7L1589.4,878.2L1587.4,879.8L1585.4,881.3L1583.3,882.8L1581.3,884.3L1579.3,885.8L1577.3,887.3L1575.2,888.8L1573.2,890.2L1571.1,891.7L1569.1,893.2L1567.0,894.6L1565.0,896.1L1562.9,897.5L1560.9,899.0L1558.8,900.4L1556.7,901.8L1554.6,903.3L1552.5,904.7L1550.5,906.1L1548.4,907.5L1546.3,908.9L1544.2,910.2L1542.1,911.6L1540.0,913.0L1537.8,914.3L1535.7,915.7L1533.6,917.0L1531.5,918.4L1529.3,919.7L1527.2,921.0L1525.1,922.3L1522.9,923.6L1520.8,924.9L1518.6,926.2L1516.5,927.5L1514.3,928.7L1512.1,930.0L1510.0,931.2L1507.8,932.5L1505.6,933.7L1503.4,934.9L1501.2,936.1L1499.0,937.3L1496.8,938.5L1494.6,939.7L1492.4,940.8L1490.2,942.0L1488.0,943.2L1485.8,944.3L1483.6,945.4L1481.3,946.5L1479.1,947.7L1476.9,948.8L1474.6,949.8L1472.4,950.9L1470.1,952.0L1467.9,953.1L1465.6,954.1L1463.3,955.2L1461.1,956.2L1458.8,957.3L1456.5,958.3L1454.3,959.3L1452.0,960.3L1449.7,961.3L1447.4,962.3L1445.1,963.3L1442.8,964.3L1440.5,965.2L1438.2,966.2L1435.9,967.1L1433.6,968.1L1431.3,969.0L1429.0,970.0L1426.6,970.9L1424.3,971.8L1422.0,972.7L1419.7,973.6L1417.3,974.5L1415.0,975.4L1412.7,976.3L1410.3,977.1L1408.0,978.0L1405.6,978.8L1403.3,979.7L1400.9,980.5L1398.6,981.4L1396.2,982.2L1393.8,983.0L1391.5,983.9L1389.1,984.7L1386.7,985.5L1384.4,986.3L1382.0,987.1L1379.6,987.9L1377.2,988.6L1374.9,989.4L1372.5,990.2L1370.1,990.9L1367.7,991.7L1365.3,992.5L1362.9,993.2L1360.5,993.9L1358.1,994.7L1355.7,995.4L1353.3,996.1L1350.9,996.9L1348.5,997.6L1346.1,998.3L1343.7,999.0L1341.3,999.7L1338.9,1000.4L1336.5,1001.1L1334.0,1001.8L1331.6,1002.4L1329.2,1003.1L1326.8,1003.8L1324.4,1004.5L1321.9,1005.1L1319.5,1005.8L1317.1,1006.4L1314.6,1007.1L1312.2,1007.7L1309.8,1008.4L1307.3,1009.0L1304.9,1009.7L1302.5,1010.3L1300.0,1010.9L1297.6,1011.5L1295.2,1012.2L1292.7,1012.8L1290.3,1013.4L1287.8,1014.0L1285.4,1014.6L1282.9,1015.2L1280.5,1015.8L1278.0,1016.4L1275.6,1017.0L1273.2,1017.6L1270.7,1018.2L1268.3,1018.8L1265.8,1019.4L1263.4,1019.9L1260.9,1020.5L1258.4,1021.1L1256.0,1021.7L1253.5,1022.2L1251.1,1022.8L1248.6,1023.4L1246.2,1023.9L1243.7,1024.5L1241.3,1025.1L1238.8,1025.6L1236.4,1026.2L1233.9,1026.7L1231.4,1027.3L1229.0,1027.8L1226.5,1028.4L1224.1,1028.9L1221.6,1029.5L1219.2,1030.0L1216.7,1030.6L1214.3,1031.1L1211.8,1031.7L1209.4,1032.2L1206.9,1032.7L1204.4,1033.3L1202.0,1033.8L1199.5,1034.3L1197.1,1034.9L1194.6,1035.4L1192.2,1036.0L1189.7,1036.5L1187.3,1037.0L1184.8,1037.6L1182.4,1038.1L1179.9,1038.6L1177.5,1039.1L1175.0,1039.7L1172.6,1040.2L1170.1,1040.7L1167.7,1041.2L1165.2,1041.8L1162.8,1042.3L1160.3,1042.8L1157.9,1043.3L1155.4,1043.8L1153.0,1044.4L1150.5,1044.9L1148.1,1045.4L1145.6,1045.9L1143.2,1046.4L1140.7,1046.9L1138.3,1047.4L1135.8,1047.9L1133.4,1048.4L1130.9,1048.9L1128.5,1049.4L1126.0,1049.9L1123.6,1050.3L1121.1,1050.8L1118.7,1051.3L1116.2,1051.8L1113.8,1052.3L1111.3,1052.7L1108.9,1053.2L1106.4,1053.7L1104.0,1054.1L1101.5,1054.6L1099.0,1055.0L1096.6,1055.5L1094.1,1055.9L1091.7,1056.4L1089.2,1056.8L1086.8,1057.3L1084.3,1057.7L1081.8,1058.1L1079.4,1058.6L1076.9,1059.0L1074.5,1059.4L1072.0,1059.8L1069.5,1060.2L1067.1,1060.7L1064.6,1061.1L1062.1,1061.5L1059.7,1061.9L1057.2,1062.2L1054.7,1062.6L1052.3,1063.0L1049.8,1063.4L1047.3,1063.8L1044.9,1064.1L1042.4,1064.5L1039.9,1064.9L1037.4,1065.2L1034.9,1065.6L1032.5,1065.9L1030.0,1066.3L1027.5,1066.6L1025.0,1066.9L1022.5,1067.2L1020.1,1067.6L1017.6,1067.9L1015.1,1068.2L1012.6,1068.5L1010.1,1068.8L1007.6,1069.1L1005.1,1069.4L1002.6,1069.6L1000.1,1069.9L997.6,1070.2L995.1,1070.5L992.6,1070.7L990.1,1071.0L987.6,1071.2L985.1,1071.5L982.6,1071.7L980.1,1071.9L977.6,1072.1L975.1,1072.3L972.6,1072.6L970.1,1072.8L967.6,1073.0L965.0,1073.1L962.5,1073.3L960.0,1073.5L960.3,1073.9L957.8,1074.1L955.3,1074.3L952.8,1074.5L950.3,1074.7L947.8,1074.9L945.3,1075.1L942.8,1075.3L940.3,1075.5L937.8,1075.7L935.3,1075.9L932.8,1076.1L930.3,1076.3L927.8,1076.5L925.3,1076.7L922.9,1076.9L920.4,1077.1L917.9,1077.3L915.4,1077.5L912.9,1077.7L910.4,1077.9L907.9,1078.0L905.4,1078.2L902.9,1078.4L900.4,1078.6L897.9,1078.8L895.4,1079.0L892.9,1079.2L890.4,1079.4L887.9,1079.6L885.4,1079.8L882.9,1080.0L880.4,1080.1L877.9,1080.3L875.4,1080.5L873.0,1080.7L870.5,1080.9L868.0,1081.1L865.5,1081.3L863.0,1081.5L860.5,1081.6" stroke="#0f0"/>
</g>
<g stroke="#000" stroke-width="6" fill="none" stroke-linecap="round">
<rect x="289.9" y="50.1" width="1752.0" height="1300.8" stroke-linecap="butt" stroke-linejoin="miter"/>
<line x1="277.9" y1="1350.9" x2="289.9" y2="1350.9"/>
<line x1="264.9" y1="1250.8" x2="289.9" y2="1250.8"/>
<line x1="277.9" y1="1150.8" x2="289.9" y2="1150.8"/>
<line x1="264.9" y1="1050.7" x2="289.9" y2="1050.7"/>
<line x1="277.9" y1="950.7" x2="289.9" y2="950.7"/>
<line x1="264.9" y1="850.6" x2="289.9" y2="850.6"/>
<line x1="277.9" y1="750.5" x2="289.9" y2="750.5"/>
<line x1="264.9" y1="650.5" x2="289.9" y2="650.5"/>
<line x1="277.9" y1="550.4" x2="289.9" y2="550.4"/>
<line x1="264.9" y1="450.3" x2="289.9" y2="450.3"/>
<line x1="277.9" y1="350.3" x2="289.9" y2="350.3"/>
<line x1="264.9" y1="250.2" x2="289.9" y2="250.2"/>
<line x1="277.9" y1="150.2" x2="289.9" y2="150.2"/>
<line x1="264.9" y1="50.1" x2="289.9" y2="50.1"/>
<line x1="289.9" y1="1350.9" x2="289.9" y2="1375.9"/>
<line x1="456.7" y1="1350.9" x2="456.7" y2="1362.9"/>
<line x1="623.5" y1="1350.9" x2="623.5" y2="1375.9"/>
<line x1="790.3" y1="1350.9" x2="790.3" y2="1362.9"/>
<line x1="957.1" y1="1350.9" x2="957.1" y2="1375.9"/>
<line x1="1123.8" y1="1350.9" x2="1123.8" y2="1362.9"/>
<line x1="1290.6" y1="1350.9" x2="1290.6" y2="1375.9"/>
<line x1="1457.4" y1="1350.9" x2="1457.4" y2="1362.9"/>
<line x1="1624.2" y1="1350.9" x2="1624.2" y2="1375.9"/>
<line x1="1791.0" y1="1350.9" x2="1791.0" y2="1362.9"/>
<line x1="1957.8" y1="1350.9" x2="1957.8" y2="1375.9"/>
</g>
<g font-size="75">
<text transform="translate(249.2,1269.2) scale(0.96,1)" text-anchor="end">30</text>
<text transform="translate(249.2,1069.1) scale(0.96,1)" text-anchor="end">40</text>
<text transform="translate(249.2,869.0) scale(0.96,1)" text-anchor="end">50</text>
<text transform="translate(249.2,668.9) scale(0.96,1)" text-anchor="end">60</text>
<text transform="translate(249.2,468.7) scale(0.96,1)" text-anchor="end">70</text>
<text transform="translate(249.2,268.6) scale(0.96,1)" text-anchor="end">80</text>
<text transform="translate(249.2,68.5) scale(0.96,1)" text-anchor="end">90</text>
<text transform="translate(290.7,1446) scale(0.96,1)" text-anchor="middle">0.0</text>
<text transform="translate(624.3,1446) scale(0.96,1)" text-anchor="middle">0.2</text>
<text transform="translate(957.9,1446) scale(0.96,1)" text-anchor="middle">0.4</text>
<text transform="translate(1291.4,1446) scale(0.96,1)" text-anchor="middle">0.6</text>
<text transform="translate(1625.0,1446) scale(0.96,1)" text-anchor="middle">0.8</text>
<text transform="translate(1958.6,1446) scale(0.96,1)" text-anchor="middle">1.0</text>
</g>
<g font-size="72">
<text transform="translate(837,974) scale(0.98,1)">(a)</text>
<text transform="translate(842.3,1142) scale(1.0,1)">(b)</text>
<text transform="translate(847.5,1242) scale(1.0,1)">(c)</text>
</g>
<text font-size="78" transform="translate(797.6,1572.8) scale(0.9895,1)">Relative pressure (P/P<tspan x="693.7" dy="30.2" font-size="47">0</tspan><tspan x="717.7" dy="-30.2">)</tspan></text>
<g transform="translate(94.5,1135.3) rotate(-90)">
<text font-size="79" transform="scale(1.0,1)">Quantity adsorbed (cm<tspan font-size="47" dy="-43.9">3</tspan><tspan dy="43.9">/g)</tspan></text>
</g>
</svg>
</body></html>
